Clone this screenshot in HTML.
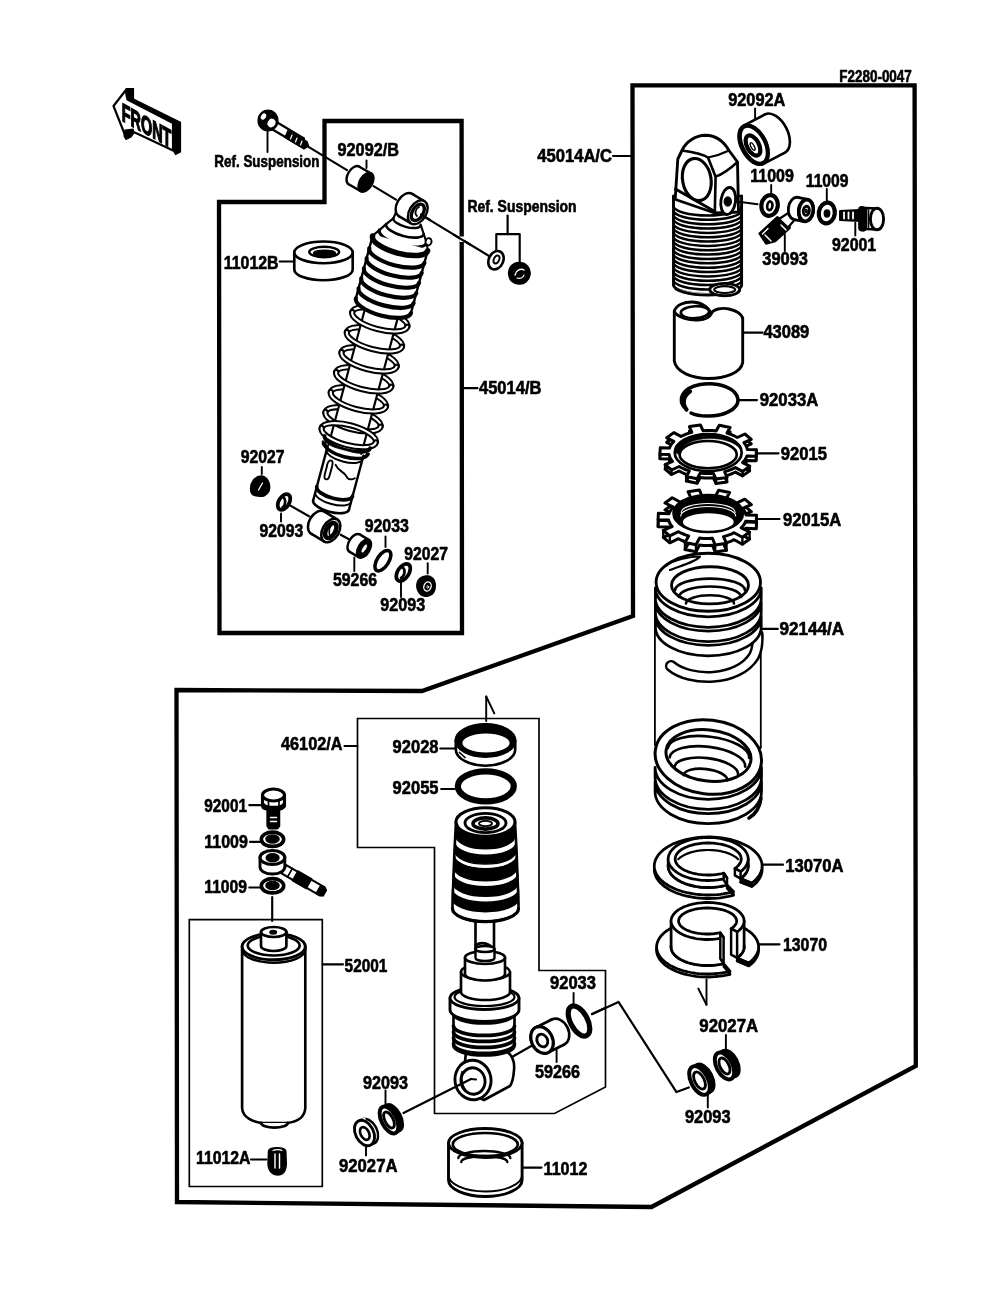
<!DOCTYPE html>
<html><head><meta charset="utf-8"><title>Shock Absorber</title>
<style>
html,body{margin:0;padding:0;background:#fff;}
body{width:1000px;height:1308px;overflow:hidden;font-family:"Liberation Sans",sans-serif;}
svg{display:block;will-change:transform;}
svg text{font-family:"Liberation Sans",sans-serif;font-weight:bold;fill:#000;}
</style></head><body>
<svg width="1000" height="1308" viewBox="0 0 1000 1308" stroke="#000" fill="none" stroke-linecap="round" stroke-linejoin="round">
<rect x="0" y="0" width="1000" height="1308" fill="#fff" stroke="none"/>
<path d="M632.5 85.3 L914.6 85.3 L915.8 1066.0 L651.5 1207.0 L177.0 1202.0 L176.5 690.0 L422.0 691.0 L633.0 616.0 Z" stroke-width="4.3" fill="none" stroke-linejoin="miter"/>
<path d="M324.5 121.0 L461.6 121.0 L462.0 633.0 L219.5 633.0 L219.0 202.0 L324.5 202.0 Z" stroke-width="4.3" fill="none" stroke-linejoin="miter"/>
<path d="M357.5 718.5 L539.0 718.5 L539.0 970.5 L605.5 970.5 L605.5 1087.0 L554.5 1113.5 L434.5 1113.5 L434.5 847.5 L357.5 847.5 Z" stroke-width="1.68" fill="none" stroke-linejoin="miter"/>
<path d="M189.3 919.7 L322.3 919.7 L322.3 1186.5 L189.3 1186.5 Z" stroke-width="1.68" fill="none" stroke-linejoin="miter"/>
<text x="839.3" y="81.5" font-size="16" textLength="72.5" lengthAdjust="spacingAndGlyphs" stroke="#000" stroke-width="0.6">F2280-0047</text>
<text x="728.2" y="106.0" font-size="18" textLength="57.2" lengthAdjust="spacingAndGlyphs" stroke="#000" stroke-width="0.6">92092A</text>
<text x="537.2" y="162.0" font-size="18" textLength="74.8" lengthAdjust="spacingAndGlyphs" stroke="#000" stroke-width="0.6">45014A/C</text>
<text x="750.3" y="181.7" font-size="18" textLength="43.5" lengthAdjust="spacingAndGlyphs" stroke="#000" stroke-width="0.6">11009</text>
<text x="805.8" y="186.8" font-size="18" textLength="42.7" lengthAdjust="spacingAndGlyphs" stroke="#000" stroke-width="0.6">11009</text>
<text x="832.0" y="250.5" font-size="18" textLength="44.2" lengthAdjust="spacingAndGlyphs" stroke="#000" stroke-width="0.6">92001</text>
<text x="762.3" y="264.7" font-size="18" textLength="45.7" lengthAdjust="spacingAndGlyphs" stroke="#000" stroke-width="0.6">39093</text>
<text x="763.4" y="338.0" font-size="18" textLength="45.9" lengthAdjust="spacingAndGlyphs" stroke="#000" stroke-width="0.6">43089</text>
<text x="759.8" y="405.5" font-size="18" textLength="58.5" lengthAdjust="spacingAndGlyphs" stroke="#000" stroke-width="0.6">92033A</text>
<text x="780.8" y="459.5" font-size="18" textLength="46.2" lengthAdjust="spacingAndGlyphs" stroke="#000" stroke-width="0.6">92015</text>
<text x="783.0" y="525.5" font-size="18" textLength="58.3" lengthAdjust="spacingAndGlyphs" stroke="#000" stroke-width="0.6">92015A</text>
<text x="779.4" y="635.4" font-size="18" textLength="64.8" lengthAdjust="spacingAndGlyphs" stroke="#000" stroke-width="0.6">92144/A</text>
<text x="785.2" y="872.1" font-size="18" textLength="58.3" lengthAdjust="spacingAndGlyphs" stroke="#000" stroke-width="0.6">13070A</text>
<text x="783.0" y="951.0" font-size="18" textLength="44.0" lengthAdjust="spacingAndGlyphs" stroke="#000" stroke-width="0.6">13070</text>
<text x="699.3" y="1032.3" font-size="18" textLength="58.9" lengthAdjust="spacingAndGlyphs" stroke="#000" stroke-width="0.6">92027A</text>
<text x="685.0" y="1122.5" font-size="18" textLength="45.6" lengthAdjust="spacingAndGlyphs" stroke="#000" stroke-width="0.6">92093</text>
<text x="550.0" y="989.0" font-size="18" textLength="46.0" lengthAdjust="spacingAndGlyphs" stroke="#000" stroke-width="0.6">92033</text>
<text x="535.0" y="1078.0" font-size="18" textLength="45.0" lengthAdjust="spacingAndGlyphs" stroke="#000" stroke-width="0.6">59266</text>
<text x="363.0" y="1089.0" font-size="18" textLength="45.0" lengthAdjust="spacingAndGlyphs" stroke="#000" stroke-width="0.6">92093</text>
<text x="339.0" y="1171.5" font-size="18" textLength="58.5" lengthAdjust="spacingAndGlyphs" stroke="#000" stroke-width="0.6">92027A</text>
<text x="543.6" y="1174.5" font-size="18" textLength="43.8" lengthAdjust="spacingAndGlyphs" stroke="#000" stroke-width="0.6">11012</text>
<text x="196.0" y="1164.0" font-size="18" textLength="54.5" lengthAdjust="spacingAndGlyphs" stroke="#000" stroke-width="0.6">11012A</text>
<text x="344.6" y="972.0" font-size="18" textLength="42.8" lengthAdjust="spacingAndGlyphs" stroke="#000" stroke-width="0.6">52001</text>
<text x="204.3" y="811.5" font-size="18" textLength="42.7" lengthAdjust="spacingAndGlyphs" stroke="#000" stroke-width="0.6">92001</text>
<text x="204.3" y="848.3" font-size="18" textLength="43.5" lengthAdjust="spacingAndGlyphs" stroke="#000" stroke-width="0.6">11009</text>
<text x="204.3" y="893.3" font-size="18" textLength="42.7" lengthAdjust="spacingAndGlyphs" stroke="#000" stroke-width="0.6">11009</text>
<text x="281.0" y="750.0" font-size="18" textLength="61.5" lengthAdjust="spacingAndGlyphs" stroke="#000" stroke-width="0.6">46102/A</text>
<text x="392.6" y="753.0" font-size="18" textLength="45.9" lengthAdjust="spacingAndGlyphs" stroke="#000" stroke-width="0.6">92028</text>
<text x="392.6" y="794.4" font-size="18" textLength="45.9" lengthAdjust="spacingAndGlyphs" stroke="#000" stroke-width="0.6">92055</text>
<text x="240.8" y="463.4" font-size="18" textLength="43.8" lengthAdjust="spacingAndGlyphs" stroke="#000" stroke-width="0.6">92027</text>
<text x="259.4" y="536.6" font-size="18" textLength="43.8" lengthAdjust="spacingAndGlyphs" stroke="#000" stroke-width="0.6">92093</text>
<text x="364.7" y="532.1" font-size="18" textLength="44.2" lengthAdjust="spacingAndGlyphs" stroke="#000" stroke-width="0.6">92033</text>
<text x="333.0" y="586.0" font-size="18" textLength="44.0" lengthAdjust="spacingAndGlyphs" stroke="#000" stroke-width="0.6">59266</text>
<text x="404.3" y="560.0" font-size="18" textLength="43.6" lengthAdjust="spacingAndGlyphs" stroke="#000" stroke-width="0.6">92027</text>
<text x="380.3" y="611.4" font-size="18" textLength="44.8" lengthAdjust="spacingAndGlyphs" stroke="#000" stroke-width="0.6">92093</text>
<text x="223.8" y="268.5" font-size="18" textLength="54.7" lengthAdjust="spacingAndGlyphs" stroke="#000" stroke-width="0.6">11012B</text>
<text x="479.0" y="393.6" font-size="18" textLength="62.4" lengthAdjust="spacingAndGlyphs" stroke="#000" stroke-width="0.6">45014/B</text>
<text x="337.5" y="155.5" font-size="18" textLength="61.5" lengthAdjust="spacingAndGlyphs" stroke="#000" stroke-width="0.6">92092/B</text>
<text x="214.3" y="167.0" font-size="16.3" textLength="105.2" lengthAdjust="spacingAndGlyphs" stroke="#000" stroke-width="0.6">Ref. Suspension</text>
<text x="467.4" y="211.5" font-size="16.3" textLength="109.2" lengthAdjust="spacingAndGlyphs" stroke="#000" stroke-width="0.6">Ref. Suspension</text>
<path d="M126.0 88.5 L133.5 88.5 L133.5 99.0 L180.5 122.3 L180.5 152.0 L175.5 154.5 L173.0 150.0 L173.0 123.5 L128.0 100.5 L125.5 91.0 Z" stroke-width="1.2" fill="#000" />
<path d="M113.5 106.0 L125.5 90.5 L127.5 99.5 L173.0 123.0 L173.0 150.5 L137.0 133.5 L131.0 131.0 L126.0 137.5 L113.5 106.0 Z" stroke-width="2.16" fill="#fff" />
<path d="M125.0 130.0 L133.0 129.0 L134.0 133.0 L131.0 137.0 L126.0 139.5 L124.0 136.0 Z" stroke-width="1.2" fill="#000" />
<text transform="translate(121.8,120.6) skewY(29)" x="0" y="0" font-size="25.5" textLength="49.5" lengthAdjust="spacingAndGlyphs" stroke="#000" stroke-width="1.5" stroke-linejoin="miter">FRONT</text>
<line x1="306.0" y1="145.3" x2="347.0" y2="170.1" stroke-width="2.16" />
<line x1="373.5" y1="186.1" x2="396.0" y2="199.7" stroke-width="2.16" />
<line x1="425.0" y1="217.2" x2="489.0" y2="256.0" stroke-width="2.16" />
<path d="M274.0 120.5 L304.0 138.5 L300.5 146.0 L270.0 128.0 Z" stroke-width="2.16" fill="#fff" />
<path d="M288.0 130.5 L307.0 141.5 L308.5 146.0 L304.0 149.0 L285.0 137.5 Z" stroke-width="1.44" fill="#000" />
<line x1="292.0" y1="135.0" x2="290.5" y2="139.0" stroke-width="1.2" stroke="#fff"/>
<line x1="297.0" y1="138.0" x2="295.5" y2="142.0" stroke-width="1.2" stroke="#fff"/>
<line x1="302.0" y1="141.0" x2="300.5" y2="145.0" stroke-width="1.2" stroke="#fff"/>
<ellipse cx="268.0" cy="120.5" rx="10.0" ry="10.5" stroke-width="1.2" fill="#000" />
<ellipse cx="263.5" cy="116.5" rx="2.2" ry="3.2" stroke-width="0.5" fill="#fff" transform="rotate(30 263.5 116.5)" stroke="#fff"/>
<ellipse cx="271.5" cy="123.0" rx="3.6" ry="4.2" stroke-width="0.5" fill="#fff" transform="rotate(30 271.5 123.0)" stroke="#fff"/>
<line x1="267.5" y1="131.0" x2="267.5" y2="152.0" stroke-width="1.92" />
<ellipse cx="354.0" cy="175.5" rx="6.2" ry="10.3" stroke-width="2.4" fill="#fff" transform="rotate(31 354.0 175.5)" />
<path d="M348.7 184.3 L360.7 191.1 L371.3 173.5 L359.3 166.7 Z" stroke-width="0.1" fill="#fff" stroke="#fff"/>
<line x1="348.7" y1="184.3" x2="360.7" y2="191.1" stroke-width="2.4" />
<line x1="359.3" y1="166.7" x2="371.3" y2="173.5" stroke-width="2.4" />
<ellipse cx="366.0" cy="182.3" rx="6.2" ry="10.3" stroke-width="2.4" fill="#000" transform="rotate(31 366.0 182.3)" />
<line x1="366.5" y1="160.5" x2="366.5" y2="168.0" stroke-width="1.92" />
<g transform="translate(400.5,242) rotate(15)">
<path d="M-12.0 -28.0 L-28.0 0.0 L28.0 0.0 L16.0 -26.0 Z" stroke-width="0.1" fill="#fff" stroke="#fff"/>
<path d="M-13.0 -21.0 A14.0 5.0 0 0 0 15.0 -21.0" stroke-width="2.4" fill="none" />
<path d="M-18.5 -13.5 A19.5 7.0 0 0 0 20.5 -13.5" stroke-width="2.64" fill="none" />
<path d="M-23.5 -6.0 A24.5 8.8 0 0 0 25.5 -6.0" stroke-width="3.12" fill="none" />
<line x1="-12.0" y1="-28.0" x2="-13.0" y2="-21.0" stroke-width="2.16" />
<line x1="-13.0" y1="-21.0" x2="-18.5" y2="-13.5" stroke-width="2.16" />
<line x1="-18.5" y1="-13.5" x2="-23.5" y2="-6.0" stroke-width="2.16" />
<line x1="-23.5" y1="-6.0" x2="-28.5" y2="1.0" stroke-width="2.16" />
<line x1="15.0" y1="-22.0" x2="20.5" y2="-13.5" stroke-width="2.16" />
<line x1="20.5" y1="-13.5" x2="25.5" y2="-6.0" stroke-width="2.16" />
<line x1="25.5" y1="-6.0" x2="28.5" y2="1.0" stroke-width="2.16" />
<ellipse cx="27.0" cy="-7.5" rx="3.0" ry="3.6" stroke-width="1.92" fill="#fff" />
<path d="M-28.5 80.1 A28.5 10.0 0 0 1 28.5 80.1" stroke-width="6.2" fill="none" />
<path d="M-28.5 80.1 A28.5 10.0 0 0 1 28.5 80.1" stroke-width="2.16" fill="none" stroke="#fff"/>
<path d="M-28.5 100.8 A28.5 10.0 0 0 1 28.5 100.8" stroke-width="6.2" fill="none" />
<path d="M-28.5 100.8 A28.5 10.0 0 0 1 28.5 100.8" stroke-width="2.16" fill="none" stroke="#fff"/>
<path d="M-28.5 121.5 A28.5 10.0 0 0 1 28.5 121.5" stroke-width="6.2" fill="none" />
<path d="M-28.5 121.5 A28.5 10.0 0 0 1 28.5 121.5" stroke-width="2.16" fill="none" stroke="#fff"/>
<path d="M-28.5 142.2 A28.5 10.0 0 0 1 28.5 142.2" stroke-width="6.2" fill="none" />
<path d="M-28.5 142.2 A28.5 10.0 0 0 1 28.5 142.2" stroke-width="2.16" fill="none" stroke="#fff"/>
<path d="M-28.5 162.9 A28.5 10.0 0 0 1 28.5 162.9" stroke-width="6.2" fill="none" />
<path d="M-28.5 162.9 A28.5 10.0 0 0 1 28.5 162.9" stroke-width="2.16" fill="none" stroke="#fff"/>
<path d="M-28.5 183.6 A28.5 10.0 0 0 1 28.5 183.6" stroke-width="6.2" fill="none" />
<path d="M-28.5 183.6 A28.5 10.0 0 0 1 28.5 183.6" stroke-width="2.16" fill="none" stroke="#fff"/>
<path d="M-17.0 60.0 L-17.0 215.0 L17.0 215.0 L17.0 60.0 Z" stroke-width="0.1" fill="#fff" stroke="#fff"/>
<line x1="-17.0" y1="60.0" x2="-17.0" y2="215.0" stroke-width="2.16" />
<line x1="17.0" y1="60.0" x2="17.0" y2="215.0" stroke-width="2.16" />
<path d="M-28.5 0.0 L-28.5 66.0 L28.5 66.0 L28.5 0.0 Z" stroke-width="0.1" fill="#fff" stroke="#fff"/>
<path d="M-28.5 66 A28.5 10 0 0 0 28.5 66 Z" stroke-width="0.1" fill="#fff" stroke="#fff"/>
<line x1="-28.5" y1="0.0" x2="-28.5" y2="66.0" stroke-width="2.4" />
<line x1="28.5" y1="0.0" x2="28.5" y2="66.0" stroke-width="2.4" />
<path d="M-28.5 1.5 A28.5 10.0 0 0 0 28.5 1.5" stroke-width="5.5" fill="none" />
<path d="M-28.5 14.0 A28.5 10.0 0 0 0 28.5 14.0" stroke-width="4.18" fill="none" />
<path d="M-28.5 24.4 A28.5 10.0 0 0 0 28.5 24.4" stroke-width="4.18" fill="none" />
<path d="M-28.5 34.8 A28.5 10.0 0 0 0 28.5 34.8" stroke-width="4.18" fill="none" />
<path d="M-28.5 45.2 A28.5 10.0 0 0 0 28.5 45.2" stroke-width="4.18" fill="none" />
<path d="M-28.5 55.6 A28.5 10.0 0 0 0 28.5 55.6" stroke-width="4.18" fill="none" />
<path d="M-28.5 66.0 A28.5 10.0 0 0 0 28.5 66.0" stroke-width="4.18" fill="none" />
<path d="M-28.5 80.1 A28.5 10.0 0 0 0 28.5 80.1" stroke-width="6.2" fill="none" />
<path d="M-28.5 80.1 A28.5 10.0 0 0 0 28.5 80.1" stroke-width="2.16" fill="none" stroke="#fff"/>
<path d="M-28.5 100.8 A28.5 10.0 0 0 0 28.5 100.8" stroke-width="6.2" fill="none" />
<path d="M-28.5 100.8 A28.5 10.0 0 0 0 28.5 100.8" stroke-width="2.16" fill="none" stroke="#fff"/>
<path d="M-28.5 121.5 A28.5 10.0 0 0 0 28.5 121.5" stroke-width="6.2" fill="none" />
<path d="M-28.5 121.5 A28.5 10.0 0 0 0 28.5 121.5" stroke-width="2.16" fill="none" stroke="#fff"/>
<path d="M-28.5 142.2 A28.5 10.0 0 0 0 28.5 142.2" stroke-width="6.2" fill="none" />
<path d="M-28.5 142.2 A28.5 10.0 0 0 0 28.5 142.2" stroke-width="2.16" fill="none" stroke="#fff"/>
<path d="M-28.5 162.9 A28.5 10.0 0 0 0 28.5 162.9" stroke-width="6.2" fill="none" />
<path d="M-28.5 162.9 A28.5 10.0 0 0 0 28.5 162.9" stroke-width="2.16" fill="none" stroke="#fff"/>
<path d="M-28.5 183.6 A28.5 10.0 0 0 0 28.5 183.6" stroke-width="6.2" fill="none" />
<path d="M-28.5 183.6 A28.5 10.0 0 0 0 28.5 183.6" stroke-width="2.16" fill="none" stroke="#fff"/>
<path d="M-28.0 200.0 A28.0 10.0 0 0 1 28.0 200.0" stroke-width="6.2" fill="none" />
<path d="M-28.0 200.0 A28.0 10.0 0 0 1 28.0 200.0" stroke-width="2.16" fill="none" stroke="#fff"/>
<path d="M-28.0 200.0 A28.0 10.0 0 0 0 28.0 200.0" stroke-width="6.2" fill="none" />
<path d="M-28.0 200.0 A28.0 10.0 0 0 0 28.0 200.0" stroke-width="2.16" fill="none" stroke="#fff"/>
<path d="M-23.0 207.0 A23.5 8.0 0 0 0 24.0 207.0" stroke-width="3.74" fill="none" />
<path d="M-23.0 213.0 A23.5 8.0 0 0 0 24.0 213.0" stroke-width="2.88" fill="none" />
<path d="M-17.5 216.0 L-17.5 272.0 L19.5 272.0 L19.5 216.0 Z" stroke-width="0.1" fill="#fff" stroke="#fff"/>
<path d="M-17.5 272 A18.5 7 0 0 0 19.5 272 Z" stroke-width="0.1" fill="#fff" stroke="#fff"/>
<line x1="-17.5" y1="216.0" x2="-17.5" y2="272.0" stroke-width="2.4" />
<line x1="19.5" y1="216.0" x2="19.5" y2="272.0" stroke-width="2.4" />
<path d="M-21.0 214 L-17.5 219 M23.0 214 L19.5 219" stroke-width="2.4" fill="none" />
<path d="M-21.0 214.0 A22.0 8.0 0 0 0 23.0 214.0" stroke-width="3.52" fill="none" />
<path d="M-17.5 220.0 A18.5 7.0 0 0 0 19.5 220.0" stroke-width="1.92" fill="none" />
<path d="M-17.5 258.0 A18.5 7.0 0 0 0 19.5 258.0" stroke-width="3.74" fill="none" />
<path d="M-17.5 264.0 A18.5 7.0 0 0 0 19.5 264.0" stroke-width="1.92" fill="none" />
<path d="M-17.5 272.0 A18.5 7.0 0 0 0 19.5 272.0" stroke-width="2.64" fill="none" />
<path d="M-13 236 C-14 228 -8 226 -8 234 L-8 244 C-8 250 -13 250 -13 244 Z" stroke-width="1.92" fill="none" />
<path d="M-5 232 C0 238 4 236 8 240 C11 244 15 242 17 240" stroke-width="1.92" fill="none" />
</g>
<ellipse cx="405.5" cy="205.0" rx="8.5" ry="13.0" stroke-width="2.4" fill="#fff" transform="rotate(31 405.5 205.0)" />
<path d="M398.8 216.1 L411.1 223.4 L424.5 201.2 L412.2 193.9 Z" stroke-width="0.1" fill="#fff" stroke="#fff"/>
<line x1="398.8" y1="216.1" x2="411.1" y2="223.4" stroke-width="2.4" />
<line x1="412.2" y1="193.9" x2="424.5" y2="201.2" stroke-width="2.4" />
<ellipse cx="417.8" cy="212.3" rx="8.5" ry="13.0" stroke-width="2.4" fill="#fff" transform="rotate(31 417.8 212.3)" />
<ellipse cx="417.8" cy="212.3" rx="5.4" ry="9.0" stroke-width="3.36" fill="#fff" transform="rotate(31 417.8 212.3)" />
<path d="M419 207 C415 209 414.5 214 417 216" stroke-width="1.8" fill="none" />
<line x1="421.0" y1="214.5" x2="430.0" y2="220.0" stroke-width="2.16" />
<ellipse cx="317.5" cy="522.5" rx="8.2" ry="12.8" stroke-width="2.52" fill="#fff" transform="rotate(30 317.5 522.5)" />
<path d="M311.1 533.6 L324.4 541.6 L337.2 519.4 L323.9 511.4 Z" stroke-width="0.1" fill="#fff" stroke="#fff"/>
<line x1="311.1" y1="533.6" x2="324.4" y2="541.6" stroke-width="2.52" />
<line x1="323.9" y1="511.4" x2="337.2" y2="519.4" stroke-width="2.52" />
<ellipse cx="330.8" cy="530.5" rx="8.2" ry="12.8" stroke-width="2.52" fill="#fff" transform="rotate(30 330.8 530.5)" />
<ellipse cx="330.8" cy="530.5" rx="4.6" ry="8.2" stroke-width="4.6" fill="#fff" transform="rotate(30 330.8 530.5)" />
<path d="M331.5 525 C329 528 329 533 330 536" stroke-width="1.68" fill="none" />
<path d="M294.3 252.4 L294.3 269.4 A29.2 10.9 0 0 0 352.7 269.4 L352.7 252.4" stroke-width="2.64" fill="#fff" />
<ellipse cx="323.5" cy="252.4" rx="29.2" ry="10.9" stroke-width="2.64" fill="#fff" />
<ellipse cx="324.2" cy="252.0" rx="15.0" ry="5.2" stroke-width="2.4" fill="#fff" />
<ellipse cx="324.5" cy="253.2" rx="11.0" ry="3.2" stroke-width="1.2" fill="#000" />
<line x1="279.5" y1="261.5" x2="294.0" y2="261.5" stroke-width="1.92" />
<path d="M251 492 C249 482 256 475.5 262 476 C268 477 271 485 269 491 C267 496 262 497 258 496 C254 496 252 495 251 492 Z" stroke-width="1.44" fill="#000" />
<line x1="258.5" y1="490.0" x2="262.5" y2="483.0" stroke-width="1.32" stroke="#fff"/>
<line x1="261.8" y1="467.0" x2="261.8" y2="474.0" stroke-width="1.92" />
<ellipse cx="284.0" cy="502.0" rx="5.2" ry="8.6" stroke-width="3.74" fill="#fff" transform="rotate(31 284.0 502.0)" />
<path d="M283 497 C286 499 286 505 282.5 507.5" stroke-width="2.64" fill="none" />
<line x1="281.0" y1="513.5" x2="281.0" y2="521.5" stroke-width="1.92" />
<line x1="290.0" y1="505.4" x2="309.0" y2="516.2" stroke-width="2.16" />
<line x1="340.6" y1="534.7" x2="349.0" y2="539.3" stroke-width="2.16" />
<ellipse cx="354.5" cy="543.0" rx="5.6" ry="10.0" stroke-width="2.4" fill="#fff" transform="rotate(31 354.5 543.0)" />
<path d="M349.3 551.6 L358.8 557.3 L369.2 540.1 L359.7 534.4 Z" stroke-width="0.1" fill="#fff" stroke="#fff"/>
<line x1="349.3" y1="551.6" x2="358.8" y2="557.3" stroke-width="2.4" />
<line x1="359.7" y1="534.4" x2="369.2" y2="540.1" stroke-width="2.4" />
<ellipse cx="364.0" cy="548.7" rx="5.6" ry="10.0" stroke-width="2.4" fill="#000" transform="rotate(31 364.0 548.7)" />
<ellipse cx="364.3" cy="548.5" rx="1.3" ry="4.3" stroke-width="0.6" fill="#fff" transform="rotate(31 364.3 548.5)" stroke="#fff"/>
<line x1="354.3" y1="557.5" x2="354.3" y2="571.0" stroke-width="1.92" />
<ellipse cx="382.9" cy="560.7" rx="5.8" ry="11.6" stroke-width="3.52" fill="#fff" transform="rotate(33 382.9 560.7)" />
<line x1="385.5" y1="536.5" x2="385.5" y2="547.0" stroke-width="1.92" />
<ellipse cx="403.3" cy="572.4" rx="5.6" ry="9.6" stroke-width="3.74" fill="#fff" transform="rotate(33 403.3 572.4)" />
<path d="M402 567 C406 569 405 576 401 578" stroke-width="2.64" fill="none" />
<line x1="401.0" y1="581.5" x2="401.0" y2="597.0" stroke-width="1.92" />
<path d="M417 588 C415.5 580 422 575 428 576 C434 577 436.5 583 435 589 C433.5 595 428 597 424 596 C420 595 418 592 417 588 Z" stroke-width="1.44" fill="#000" />
<ellipse cx="427.5" cy="586.5" rx="3.6" ry="4.6" stroke-width="1.32" fill="none" transform="rotate(20 427.5 586.5)" stroke="#fff"/>
<ellipse cx="427.8" cy="587.0" rx="0.9" ry="1.3" stroke-width="0.8" fill="none" stroke="#fff"/>
<line x1="427.7" y1="563.3" x2="427.7" y2="573.5" stroke-width="1.92" />
<line x1="507.6" y1="215.5" x2="507.6" y2="234.2" stroke-width="2.16" />
<path d="M496.3 251.0 L496.3 234.2 L519.7 234.2 L519.7 262.5" stroke-width="2.16" fill="none" />
<ellipse cx="496.0" cy="260.2" rx="7.2" ry="9.6" stroke-width="2.64" fill="#fff" transform="rotate(25 496.0 260.2)" />
<ellipse cx="496.5" cy="259.5" rx="2.6" ry="4.2" stroke-width="1.92" fill="#fff" transform="rotate(25 496.5 259.5)" />
<path d="M509 276 C507 268 513 262 520 262.5 C527 263 531 269 530 275 C529 281 524 284.5 519 284 C514 283.5 510 281 509 276 Z" stroke-width="1.44" fill="#000" />
<path d="M515 275 C516 270 521 268 524 270" stroke-width="1.44" fill="none" stroke="#fff"/>
<path d="M517 278 C520 279 523 278 524 275" stroke-width="1.2" fill="none" stroke="#fff"/>
<line x1="462.0" y1="236.5" x2="462.0" y2="242.0" stroke-width="5" stroke="#fff" stroke-linecap="butt"/>
<line x1="454.0" y1="234.8" x2="470.0" y2="244.5" stroke-width="2.16" />
<line x1="464.0" y1="388.2" x2="477.5" y2="388.2" stroke-width="2.16" />
<line x1="755.1" y1="108.5" x2="755.1" y2="120.0" stroke-width="1.92" />
<ellipse cx="775.0" cy="133.5" rx="12.5" ry="21.5" stroke-width="2.64" fill="#fff" transform="rotate(-27.5 775.0 133.5)" />
<path d="M784.9 152.6 L763.4 163.8 L743.6 125.6 L765.1 114.4 Z" stroke-width="0.1" fill="#fff" stroke="#fff"/>
<line x1="784.9" y1="152.6" x2="763.4" y2="163.8" stroke-width="2.64" />
<line x1="765.1" y1="114.4" x2="743.6" y2="125.6" stroke-width="2.64" />
<ellipse cx="753.5" cy="144.7" rx="12.5" ry="21.5" stroke-width="2.64" fill="#fff" transform="rotate(-27.5 753.5 144.7)" />
<ellipse cx="753.8" cy="144.7" rx="11.6" ry="20.6" stroke-width="4.2" fill="#fff" transform="rotate(-27.5 753.8 144.7)" />
<ellipse cx="753.0" cy="145.5" rx="6.0" ry="11.0" stroke-width="4.2" fill="#fff" transform="rotate(-27.5 753.0 145.5)" />
<ellipse cx="752.6" cy="146.5" rx="1.6" ry="4.2" stroke-width="1.44" fill="#fff" transform="rotate(-27.5 752.6 146.5)" />
<path d="M673.5 196 L673.5 282 A34.10000000000002 10 0 0 0 741.7 282 L741.7 196 Z" stroke-width="2.64" fill="#fff" />
<path d="M673.5 278 A34.10000000000002 10 0 0 0 741.7 278 L741.7 283 A34.10000000000002 10 0 0 1 673.5 283 Z" stroke-width="0.1" fill="#fff" stroke="#fff"/>
<path d="M673.5 206.0 A34.10000000000002 9.5 0 0 0 741.7 206.0" stroke-width="2.52" fill="none" />
<path d="M673.5 210.3 A34.10000000000002 9.5 0 0 0 741.7 210.3" stroke-width="2.52" fill="none" />
<path d="M673.5 214.7 A34.10000000000002 9.5 0 0 0 741.7 214.7" stroke-width="2.52" fill="none" />
<path d="M673.5 219.0 A34.10000000000002 9.5 0 0 0 741.7 219.0" stroke-width="2.52" fill="none" />
<path d="M673.5 223.4 A34.10000000000002 9.5 0 0 0 741.7 223.4" stroke-width="2.52" fill="none" />
<path d="M673.5 227.7 A34.10000000000002 9.5 0 0 0 741.7 227.7" stroke-width="2.52" fill="none" />
<path d="M673.5 232.1 A34.10000000000002 9.5 0 0 0 741.7 232.1" stroke-width="2.52" fill="none" />
<path d="M673.5 236.4 A34.10000000000002 9.5 0 0 0 741.7 236.4" stroke-width="2.52" fill="none" />
<path d="M673.5 240.8 A34.10000000000002 9.5 0 0 0 741.7 240.8" stroke-width="2.52" fill="none" />
<path d="M673.5 245.1 A34.10000000000002 9.5 0 0 0 741.7 245.1" stroke-width="2.52" fill="none" />
<path d="M673.5 249.5 A34.10000000000002 9.5 0 0 0 741.7 249.5" stroke-width="2.52" fill="none" />
<path d="M673.5 253.8 A34.10000000000002 9.5 0 0 0 741.7 253.8" stroke-width="2.52" fill="none" />
<path d="M673.5 258.2 A34.10000000000002 9.5 0 0 0 741.7 258.2" stroke-width="2.52" fill="none" />
<path d="M673.5 262.5 A34.10000000000002 9.5 0 0 0 741.7 262.5" stroke-width="2.52" fill="none" />
<path d="M673.5 266.9 A34.10000000000002 9.5 0 0 0 741.7 266.9" stroke-width="2.52" fill="none" />
<path d="M673.5 271.2 A34.10000000000002 9.5 0 0 0 741.7 271.2" stroke-width="2.52" fill="none" />
<path d="M673.5 275.6 A34.10000000000002 9.5 0 0 0 741.7 275.6" stroke-width="2.52" fill="none" />
<path d="M673.5 280.0 A34.10000000000002 9.5 0 0 0 741.7 280.0" stroke-width="2.52" fill="none" />
<path d="M673.5 285 A34.10000000000002 10 0 0 0 741.7 285" stroke-width="2.88" fill="none" />
<line x1="673.5" y1="196.0" x2="673.5" y2="285.0" stroke-width="2.64" />
<line x1="741.7" y1="196.0" x2="741.7" y2="285.0" stroke-width="2.64" />
<ellipse cx="724.7" cy="289.6" rx="15.0" ry="6.2" stroke-width="2.88" fill="#fff" />
<ellipse cx="724.7" cy="289.6" rx="10.5" ry="3.4" stroke-width="2.16" fill="#fff" />
<path d="M675.2 199 L677.8 159 L682 150.5 C686 141 696 135.5 705.5 135.3 C716 135.5 724 142 729 150.5 L737.5 162 L738.5 212 L714.8 213 L677 200 Z" stroke-width="2.88" fill="#fff" />
<path d="M682 150.5 C692 152 703 154 708 157.5 L715.6 176.7 L714.8 213" stroke-width="2.64" fill="none" />
<path d="M715.6 176.7 C723 174 731 168 737.5 162" stroke-width="2.4" fill="none" />
<path d="M708 157.5 C716 156 724 153 729 150.5" stroke-width="2.16" fill="none" />
<path d="M675.5 189 L714.8 211.5" stroke-width="2.88" fill="none" />
<ellipse cx="696.8" cy="179.5" rx="14.2" ry="21.2" stroke-width="3.12" fill="#fff" transform="rotate(-10 696.8 179.5)" />
<ellipse cx="728.2" cy="201.0" rx="7.3" ry="13.6" stroke-width="2.88" fill="#fff" transform="rotate(8 728.2 201.0)" />
<ellipse cx="727.8" cy="201.5" rx="3.6" ry="4.6" stroke-width="1.2" fill="#000" />
<line x1="613.0" y1="156.0" x2="632.0" y2="156.0" stroke-width="2.16" />
<line x1="735.0" y1="201.3" x2="757.5" y2="204.2" stroke-width="2.16" />
<line x1="771.2" y1="185.0" x2="771.2" y2="193.5" stroke-width="1.92" />
<ellipse cx="769.6" cy="205.5" rx="8.2" ry="10.4" stroke-width="4.2" fill="#fff" transform="rotate(8 769.6 205.5)" />
<ellipse cx="769.8" cy="205.8" rx="2.6" ry="4.4" stroke-width="2.64" fill="#fff" transform="rotate(8 769.8 205.8)" />
<path d="M759.3 233.5 L777.3 217.0 L788.5 222.5 L790.0 228.0 L775.0 241.5 L766.0 243.8 Z" stroke-width="1.8" fill="#000" />
<path d="M779.0 219.0 L787.5 213.5 L794.5 220.0 L788.0 227.5 Z" stroke-width="2.16" fill="#fff" />
<line x1="765.0" y1="235.0" x2="771.0" y2="241.0" stroke-width="1.44" stroke="#fff"/>
<line x1="762.5" y1="234.0" x2="768.0" y2="228.5" stroke-width="1.44" stroke="#fff"/>
<line x1="781.0" y1="225.0" x2="786.0" y2="230.0" stroke-width="1.44" stroke="#fff"/>
<ellipse cx="796.0" cy="208.5" rx="7.6" ry="11.3" stroke-width="2.88" fill="#fff" transform="rotate(8 796.0 208.5)" />
<path d="M794.4 219.7 L804.4 221.7 L807.6 199.3 L797.6 197.3 Z" stroke-width="0.1" fill="#fff" stroke="#fff"/>
<line x1="794.4" y1="219.7" x2="804.4" y2="221.7" stroke-width="2.88" />
<line x1="797.6" y1="197.3" x2="807.6" y2="199.3" stroke-width="2.88" />
<ellipse cx="806.0" cy="210.5" rx="7.6" ry="11.3" stroke-width="2.88" fill="#fff" transform="rotate(8 806.0 210.5)" />
<ellipse cx="806.0" cy="210.5" rx="7.2" ry="10.8" stroke-width="3.6" fill="#fff" transform="rotate(8 806.0 210.5)" />
<ellipse cx="806.3" cy="210.8" rx="3.0" ry="4.6" stroke-width="2.88" fill="#fff" transform="rotate(8 806.3 210.8)" />
<ellipse cx="806.3" cy="211.0" rx="1.0" ry="1.6" stroke-width="1.2" fill="#000" />
<line x1="784.8" y1="234.0" x2="784.8" y2="251.0" stroke-width="1.92" />
<line x1="826.8" y1="189.0" x2="826.8" y2="200.5" stroke-width="1.92" />
<ellipse cx="826.8" cy="213.0" rx="8.0" ry="10.4" stroke-width="4.2" fill="#fff" transform="rotate(8 826.8 213.0)" />
<ellipse cx="827.0" cy="213.5" rx="2.8" ry="3.6" stroke-width="1.2" fill="#000" />
<path d="M840.0 211.0 L860.0 210.0 L860.0 221.0 L840.0 220.0 Z" stroke-width="1.92" fill="#000" />
<line x1="844.0" y1="212.5" x2="844.0" y2="218.5" stroke-width="1.8" stroke="#fff"/>
<line x1="848.5" y1="212.5" x2="848.5" y2="218.5" stroke-width="1.8" stroke="#fff"/>
<line x1="853.0" y1="212.5" x2="853.0" y2="218.5" stroke-width="1.8" stroke="#fff"/>
<path d="M859 209 C859 206 865 206 866 209 L866 229 C865 232 859 231 859 228 Z" stroke-width="1.68" fill="#000" />
<path d="M866 208 L877 208.5 L877 229.5 L866 229 Z" stroke-width="2.4" fill="#fff" />
<ellipse cx="877.0" cy="219.0" rx="6.6" ry="10.8" stroke-width="2.88" fill="#fff" />
<line x1="868.5" y1="210.0" x2="868.5" y2="228.0" stroke-width="1.68" />
<line x1="855.3" y1="222.8" x2="855.3" y2="235.5" stroke-width="1.92" />
<path d="M674.3 311.5 L674.3 361 C676 372 692 378.5 708.5 378.5 C725 378.5 741 373 742.7 362.5 L742.7 318" stroke-width="2.88" fill="#fff" />
<path d="M674.3 311.5 C676 305 684 302 692 302 C700 302 708 306 711.2 313.7 C713 309 722 307.5 729 309 C736 310.5 741.5 314 742.7 318.2" stroke-width="2.88" fill="#fff" />
<path d="M674.3 311.5 C678 318 690 320.5 698 320 C705 319.5 710 317 711.2 313.7" stroke-width="2.88" fill="none" />
<ellipse cx="695.0" cy="312.2" rx="14.2" ry="6.0" stroke-width="2.64" fill="#fff" transform="rotate(-3 695.0 312.2)" />
<line x1="743.0" y1="332.6" x2="762.5" y2="332.6" stroke-width="2.16" />
<path d="M686.5 409.5 C676 400 682 388 700 384.5 C720 381.5 737 389 738 399.5 C738.5 410 722 416.5 707 416 C700 416 694 414.5 691 413" stroke-width="3.52" fill="none" />
<path d="M686.5 409.5 C682 404 683 396 690 391.5" stroke-width="4.2" fill="none" />
<line x1="738.5" y1="400.1" x2="757.0" y2="400.1" stroke-width="2.16" />
<path d="M747.4 454.1 L756.5 454.2 L756.1 460.7 L747.0 460.4 L746.1 462.5 L745.3 463.9 L744.3 465.2 L742.6 467.1 L749.7 470.7 L742.6 475.9 L735.4 472.1 L732.4 473.5 L730.3 474.3 L728.1 475.1 L724.6 476.1 L727.0 481.9 L716.0 483.6 L713.4 477.8 L709.4 478.0 L706.8 478.0 L704.2 477.9 L700.3 477.6 L697.1 483.3 L686.3 481.0 L689.4 475.4 L686.0 474.3 L683.9 473.4 L681.9 472.5 L679.1 471.0 L671.5 474.5 L665.1 469.1 L672.5 465.8 L671.0 463.8 L670.2 462.4 L669.6 461.0 L669.0 458.9 L659.9 458.8 L660.3 452.3 L669.4 452.6 L670.3 450.5 L671.1 449.1 L672.1 447.8 L673.8 445.9 L666.7 442.3 L673.8 437.1 L681.0 440.9 L684.0 439.5 L686.1 438.7 L688.3 437.9 L691.8 436.9 L689.4 431.1 L700.4 429.4 L703.0 435.2 L707.0 435.0 L709.6 435.0 L712.2 435.1 L716.1 435.4 L719.3 429.7 L730.1 432.0 L727.0 437.6 L730.4 438.7 L732.5 439.6 L734.5 440.5 L737.3 442.0 L744.9 438.5 L751.3 443.9 L743.9 447.2 L745.4 449.2 L746.2 450.6 L746.8 452.0 Z" stroke-width="3.0" fill="#fff" />
<line x1="756.5" y1="449.7" x2="756.5" y2="454.2" stroke-width="2.4" />
<line x1="756.1" y1="456.2" x2="756.1" y2="460.7" stroke-width="2.4" />
<line x1="749.7" y1="466.2" x2="749.7" y2="470.7" stroke-width="2.4" />
<line x1="742.6" y1="471.4" x2="742.6" y2="475.9" stroke-width="2.4" />
<line x1="727.0" y1="477.4" x2="727.0" y2="481.9" stroke-width="2.4" />
<line x1="716.0" y1="479.1" x2="716.0" y2="483.6" stroke-width="2.4" />
<line x1="697.1" y1="478.8" x2="697.1" y2="483.3" stroke-width="2.4" />
<line x1="686.3" y1="476.5" x2="686.3" y2="481.0" stroke-width="2.4" />
<line x1="671.5" y1="470.0" x2="671.5" y2="474.5" stroke-width="2.4" />
<line x1="665.1" y1="464.6" x2="665.1" y2="469.1" stroke-width="2.4" />
<line x1="659.9" y1="454.3" x2="659.9" y2="458.8" stroke-width="2.4" />
<line x1="660.3" y1="447.8" x2="660.3" y2="452.3" stroke-width="2.4" />
<path d="M747.4 449.6 L756.5 449.7 L756.1 456.2 L747.0 455.9 L746.1 458.0 L745.3 459.4 L744.3 460.7 L742.6 462.6 L749.7 466.2 L742.6 471.4 L735.4 467.6 L732.4 469.0 L730.3 469.8 L728.1 470.6 L724.6 471.6 L727.0 477.4 L716.0 479.1 L713.4 473.3 L709.4 473.5 L706.8 473.5 L704.2 473.4 L700.3 473.1 L697.1 478.8 L686.3 476.5 L689.4 470.9 L686.0 469.8 L683.9 468.9 L681.9 468.0 L679.1 466.5 L671.5 470.0 L665.1 464.6 L672.5 461.3 L671.0 459.3 L670.2 457.9 L669.6 456.5 L669.0 454.4 L659.9 454.3 L660.3 447.8 L669.4 448.1 L670.3 446.0 L671.1 444.6 L672.1 443.3 L673.8 441.4 L666.7 437.8 L673.8 432.6 L681.0 436.4 L684.0 435.0 L686.1 434.2 L688.3 433.4 L691.8 432.4 L689.4 426.6 L700.4 424.9 L703.0 430.7 L707.0 430.5 L709.6 430.5 L712.2 430.6 L716.1 430.9 L719.3 425.2 L730.1 427.5 L727.0 433.1 L730.4 434.2 L732.5 435.1 L734.5 436.0 L737.3 437.5 L744.9 434.0 L751.3 439.4 L743.9 442.7 L745.4 444.7 L746.2 446.1 L746.8 447.5 Z" stroke-width="3.0" fill="#fff" />
<ellipse cx="708.2" cy="452.5" rx="33.5" ry="18.5" stroke-width="2.64" fill="#fff" />
<path d="M675 452.5 A33.2 18.5 0 0 1 741.4 452.5 A28.6 13.8 0 0 0 679.6 454.5 Z" stroke-width="0.5" fill="#000" />
<ellipse cx="708.2" cy="454.6" rx="28.6" ry="13.6" stroke-width="2.64" fill="#fff" />
<line x1="757.7" y1="453.3" x2="778.5" y2="453.3" stroke-width="2.16" />
<path d="M746.0 522.1 L756.6 522.2 L756.2 528.8 L745.6 528.3 L744.8 530.4 L743.9 531.7 L743.0 533.0 L741.2 534.8 L749.6 539.0 L742.4 544.2 L734.1 539.7 L731.2 541.1 L729.1 541.9 L726.9 542.6 L723.5 543.6 L726.5 550.3 L715.2 552.1 L712.4 545.3 L708.5 545.5 L705.9 545.5 L703.4 545.4 L699.5 545.1 L696.0 551.8 L685.0 549.5 L688.7 543.0 L685.4 541.9 L683.3 541.0 L681.3 540.2 L678.5 538.7 L669.8 542.8 L663.3 537.3 L672.1 533.5 L670.6 531.6 L669.8 530.3 L669.2 528.9 L668.6 526.9 L658.0 526.8 L658.4 520.2 L669.0 520.7 L669.8 518.6 L670.7 517.3 L671.6 516.0 L673.4 514.2 L665.0 510.0 L672.2 504.8 L680.5 509.3 L683.4 507.9 L685.5 507.1 L687.7 506.4 L691.1 505.4 L688.1 498.7 L699.4 496.9 L702.2 503.7 L706.1 503.5 L708.7 503.5 L711.2 503.6 L715.1 503.9 L718.6 497.2 L729.6 499.5 L725.9 506.0 L729.2 507.1 L731.3 508.0 L733.3 508.8 L736.1 510.3 L744.8 506.2 L751.3 511.7 L742.5 515.5 L744.0 517.4 L744.8 518.7 L745.4 520.1 Z" stroke-width="3.0" fill="#fff" />
<line x1="756.6" y1="515.2" x2="756.6" y2="522.2" stroke-width="2.4" />
<line x1="756.2" y1="521.8" x2="756.2" y2="528.8" stroke-width="2.4" />
<line x1="749.6" y1="532.0" x2="749.6" y2="539.0" stroke-width="2.4" />
<line x1="742.4" y1="537.2" x2="742.4" y2="544.2" stroke-width="2.4" />
<line x1="726.5" y1="543.3" x2="726.5" y2="550.3" stroke-width="2.4" />
<line x1="715.2" y1="545.1" x2="715.2" y2="552.1" stroke-width="2.4" />
<line x1="696.0" y1="544.8" x2="696.0" y2="551.8" stroke-width="2.4" />
<line x1="685.0" y1="542.5" x2="685.0" y2="549.5" stroke-width="2.4" />
<line x1="669.8" y1="535.8" x2="669.8" y2="542.8" stroke-width="2.4" />
<line x1="663.3" y1="530.3" x2="663.3" y2="537.3" stroke-width="2.4" />
<line x1="658.0" y1="519.8" x2="658.0" y2="526.8" stroke-width="2.4" />
<line x1="658.4" y1="513.2" x2="658.4" y2="520.2" stroke-width="2.4" />
<path d="M746.0 515.1 L756.6 515.2 L756.2 521.8 L745.6 521.3 L744.8 523.4 L743.9 524.7 L743.0 526.0 L741.2 527.8 L749.6 532.0 L742.4 537.2 L734.1 532.7 L731.2 534.1 L729.1 534.9 L726.9 535.6 L723.5 536.6 L726.5 543.3 L715.2 545.1 L712.4 538.3 L708.5 538.5 L705.9 538.5 L703.4 538.4 L699.5 538.1 L696.0 544.8 L685.0 542.5 L688.7 536.0 L685.4 534.9 L683.3 534.0 L681.3 533.2 L678.5 531.7 L669.8 535.8 L663.3 530.3 L672.1 526.5 L670.6 524.6 L669.8 523.3 L669.2 521.9 L668.6 519.9 L658.0 519.8 L658.4 513.2 L669.0 513.7 L669.8 511.6 L670.7 510.3 L671.6 509.0 L673.4 507.2 L665.0 503.0 L672.2 497.8 L680.5 502.3 L683.4 500.9 L685.5 500.1 L687.7 499.4 L691.1 498.4 L688.1 491.7 L699.4 489.9 L702.2 496.7 L706.1 496.5 L708.7 496.5 L711.2 496.6 L715.1 496.9 L718.6 490.2 L729.6 492.5 L725.9 499.0 L729.2 500.1 L731.3 501.0 L733.3 501.8 L736.1 503.3 L744.8 499.2 L751.3 504.7 L742.5 508.5 L744.0 510.4 L744.8 511.7 L745.4 513.1 Z" stroke-width="3.0" fill="#fff" />
<ellipse cx="708.2" cy="513.5" rx="34.8" ry="18.5" stroke-width="2.4" fill="#000" />
<path d="M681.2 512.5 A27 9 0 0 1 735.2 512.5" stroke-width="1.08" fill="none" stroke="#fff"/>
<path d="M680.7 516 A27.5 9.5 0 0 1 735.7 516" stroke-width="1.08" fill="none" stroke="#fff"/>
<ellipse cx="708.3" cy="522.0" rx="26.3" ry="9.6" stroke-width="1.8" fill="#fff" />
<line x1="756.6" y1="519.0" x2="779.5" y2="519.0" stroke-width="2.16" />
<line x1="654.9" y1="600.0" x2="654.9" y2="745.0" stroke-width="1.8" />
<line x1="760.8" y1="600.0" x2="760.8" y2="748.0" stroke-width="1.8" />
<path d="M671 666 C690 682 738 682 754 656 C757 650 758 642 757.5 634" stroke-width="12.2" fill="none" stroke-linecap="round"/>
<path d="M671 666 C690 682 738 682 754 656 C757 650 758 642 757.5 634" stroke-width="7.2" fill="none" stroke="#fff" stroke-linecap="round"/>
<path d="M655.4 626.9 A52.9 29 0 0 0 761.2 626.9 L761.2 616.4 A52.9 29 0 0 1 655.4 616.4 Z" stroke-width="2.76" fill="#fff" />
<path d="M655.4 612.6 A52.9 29 0 0 0 761.2 612.6 L761.2 602.1 A52.9 29 0 0 1 655.4 602.1 Z" stroke-width="2.76" fill="#fff" />
<path d="M655.4 598.3 A52.9 29 0 0 0 761.2 598.3 L761.2 587.8 A52.9 29 0 0 1 655.4 587.8 Z" stroke-width="2.76" fill="#fff" />
<ellipse cx="708.3" cy="582.2" rx="52.2" ry="29.0" stroke-width="2.88" fill="#fff" />
<ellipse cx="710.0" cy="585.3" rx="38.5" ry="18.6" stroke-width="2.88" fill="#fff" />
<path d="M675 590.5 A35 11.9 0 0 1 745 590.5" stroke-width="2.64" fill="none" />
<path d="M679 597 A31 10.5 0 0 1 741 597" stroke-width="2.64" fill="none" />
<path d="M686 603.5 A24 8.2 0 0 1 734 603.5" stroke-width="2.64" fill="none" />
<path d="M666 566 C672 560 690 556.5 700 556.5 C696 562 680 566 670 570" stroke-width="2.16" fill="none" />
<line x1="761.4" y1="628.8" x2="777.8" y2="628.8" stroke-width="2.16" />
<path d="M655.1 791.6 A53.2 32 0 0 0 761.5 791.6 L761.5 781.6 A53.2 32 0 0 1 655.1 781.6 Z" stroke-width="2.76" fill="#fff" />
<path d="M655.1 777.3 A53.2 32 0 0 0 761.5 777.3 L761.5 767.3 A53.2 32 0 0 1 655.1 767.3 Z" stroke-width="2.76" fill="#fff" />
<g transform="rotate(7 708.3 757)">
<ellipse cx="708.3" cy="757.0" rx="53.4" ry="37.0" stroke-width="3.0" fill="#fff" />
<ellipse cx="708.3" cy="755.5" rx="42.7" ry="25.5" stroke-width="3.0" fill="#fff" />
<path d="M667 753 A41 16.4 0 0 1 749 753" stroke-width="2.64" fill="none" />
<path d="M670 762 A38 15.2 0 0 1 746 762" stroke-width="2.64" fill="none" />
<path d="M676 771 A32 12.8 0 0 1 740 771" stroke-width="2.64" fill="none" />
<path d="M686 778 A22 8.8 0 0 1 730 778" stroke-width="2.64" fill="none" />
</g>
<path d="M749 818 C756 814 760 806 761 798" stroke-width="3.6" fill="none" />
<path d="M733.5 895.1 L731.0 895.8 L728.4 896.4 L725.7 896.9 L723.0 897.4 L720.3 897.8 L717.5 898.1 L714.7 898.3 L711.9 898.4 L709.1 898.5 L706.2 898.5 L703.4 898.4 L700.6 898.2 L697.8 898.0 L695.0 897.6 L692.3 897.2 L689.6 896.7 L687.0 896.2 L684.4 895.5 L681.9 894.8 L679.5 894.0 L677.1 893.2 L674.9 892.3 L672.7 891.3 L670.6 890.3 L668.6 889.2 L666.8 888.0 L665.0 886.9 L663.4 885.6 L661.9 884.3 L660.5 883.0 L659.2 881.6 L658.1 880.2 L657.1 878.8 L656.3 877.3 L655.6 875.9 L655.1 874.4 L654.7 872.9 L654.4 871.4 L654.3 869.8 L654.3 868.3 L654.5 866.8 L654.9 865.3 L655.4 863.8 L656.0 862.3 L656.8 860.8 L657.7 859.4 L658.7 858.0 L659.9 856.6 L661.3 855.2 L662.7 853.9 L664.3 852.7 L666.0 851.5 L667.8 850.3 L669.7 849.2 L671.8 848.1 L673.9 847.1 L676.1 846.2 L678.5 845.3 L680.9 844.5 L683.3 843.8 L685.9 843.1 L688.5 842.5 L691.2 842.0 L693.9 841.5 L696.6 841.2 L699.4 840.9 L702.2 840.7 L705.0 840.6 L707.8 840.5 L710.7 840.5 L713.5 840.6 L716.3 840.8 L719.1 841.1 L721.8 841.4 L724.6 841.9 L727.2 842.4 L729.9 842.9 L732.4 843.6 L734.9 844.3 L737.3 845.1 L739.7 846.0 L741.9 846.9 L744.1 847.9 L746.2 848.9 L748.1 850.0 L750.0 851.2 L751.7 852.4 L753.3 853.6 L754.8 854.9 L756.1 856.2 L757.4 857.6 L758.5 859.0 L759.4 860.5 L760.2 861.9 L760.9 863.4 L761.4 864.9 L761.8 866.4 L762.0 867.9 L762.1 869.4 L762.0 871.0 L761.8 872.5 L761.4 874.0 L760.9 875.5 L760.3 877.0 L759.5 878.4 L758.5 879.9 L757.5 881.3 L756.2 882.7 L754.9 884.0 L753.4 885.3 L751.8 886.5 L740.6 882.1 L741.8 881.2 L742.8 880.2 L743.8 879.3 L744.8 878.2 L745.6 877.2 L746.3 876.1 L746.8 875.0 L747.3 873.9 L747.7 872.8 L748.0 871.7 L748.1 870.6 L748.2 869.5 L748.1 868.3 L748.0 867.2 L747.7 866.1 L747.3 865.0 L746.8 863.9 L746.2 862.8 L745.5 861.7 L744.7 860.7 L743.8 859.7 L742.8 858.7 L741.7 857.7 L740.5 856.8 L739.2 855.9 L737.8 855.0 L736.4 854.2 L734.8 853.5 L733.2 852.7 L731.6 852.0 L729.8 851.4 L728.0 850.8 L726.2 850.3 L724.3 849.8 L722.3 849.4 L720.3 849.0 L718.3 848.7 L716.3 848.4 L714.2 848.2 L712.1 848.1 L710.0 848.0 L707.9 848.0 L705.8 848.0 L703.7 848.1 L701.7 848.3 L699.6 848.5 L697.6 848.8 L695.6 849.1 L693.6 849.5 L691.6 849.9 L689.8 850.4 L687.9 851.0 L686.1 851.6 L684.4 852.2 L682.8 852.9 L681.2 853.6 L679.7 854.4 L678.2 855.3 L676.9 856.1 L675.6 857.0 L674.4 858.0 L673.4 858.9 L672.4 859.9 L671.5 861.0 L670.7 862.0 L670.0 863.1 L669.5 864.2 L669.0 865.3 L668.6 866.4 L668.4 867.5 L668.2 868.6 L668.2 869.7 L668.3 870.9 L668.5 872.0 L668.8 873.1 L669.2 874.2 L669.7 875.3 L670.3 876.4 L671.0 877.5 L671.9 878.5 L672.8 879.5 L673.8 880.5 L674.9 881.4 L676.2 882.4 L677.5 883.3 L678.8 884.1 L680.3 884.9 L681.8 885.7 L683.5 886.4 L685.1 887.1 L686.9 887.7 L688.7 888.3 L690.6 888.8 L692.5 889.3 L694.4 889.7 L696.4 890.0 L698.4 890.3 L700.5 890.6 L702.6 890.8 L704.6 890.9 L706.7 891.0 L708.8 891.0 L710.9 890.9 L713.0 890.8 L715.1 890.7 L717.2 890.5 L719.2 890.2 L721.2 889.8 L723.2 889.4 L725.1 889.0 L727.0 888.5 Z" stroke-width="2.76" fill="#fff" />
<path d="M733.5 891.6 L731.0 892.3 L728.4 892.9 L725.7 893.4 L723.0 893.9 L720.3 894.3 L717.5 894.6 L714.7 894.8 L711.9 894.9 L709.1 895.0 L706.2 895.0 L703.4 894.9 L700.6 894.7 L697.8 894.5 L695.0 894.1 L692.3 893.7 L689.6 893.2 L687.0 892.7 L684.4 892.0 L681.9 891.3 L679.5 890.5 L677.1 889.7 L674.9 888.8 L672.7 887.8 L670.6 886.8 L668.6 885.7 L666.8 884.5 L665.0 883.4 L663.4 882.1 L661.9 880.8 L660.5 879.5 L659.2 878.1 L658.1 876.7 L657.1 875.3 L656.3 873.8 L655.6 872.4 L655.1 870.9 L654.7 869.4 L654.4 867.9 L654.3 866.3 L654.3 864.8 L654.5 863.3 L654.9 861.8 L655.4 860.3 L656.0 858.8 L656.8 857.3 L657.7 855.9 L658.7 854.5 L659.9 853.1 L661.3 851.7 L662.7 850.4 L664.3 849.2 L666.0 848.0 L667.8 846.8 L669.7 845.7 L671.8 844.6 L673.9 843.6 L676.1 842.7 L678.5 841.8 L680.9 841.0 L683.3 840.3 L685.9 839.6 L688.5 839.0 L691.2 838.5 L693.9 838.0 L696.6 837.7 L699.4 837.4 L702.2 837.2 L705.0 837.1 L707.8 837.0 L710.7 837.0 L713.5 837.1 L716.3 837.3 L719.1 837.6 L721.8 837.9 L724.6 838.4 L727.2 838.9 L729.9 839.4 L732.4 840.1 L734.9 840.8 L737.3 841.6 L739.7 842.5 L741.9 843.4 L744.1 844.4 L746.2 845.4 L748.1 846.5 L750.0 847.7 L751.7 848.9 L753.3 850.1 L754.8 851.4 L756.1 852.7 L757.4 854.1 L758.5 855.5 L759.4 857.0 L760.2 858.4 L760.9 859.9 L761.4 861.4 L761.8 862.9 L762.0 864.4 L762.1 865.9 L762.0 867.5 L761.8 869.0 L761.4 870.5 L760.9 872.0 L760.3 873.5 L759.5 874.9 L758.5 876.4 L757.5 877.8 L756.2 879.2 L754.9 880.5 L753.4 881.8 L751.8 883.0 L740.6 878.6 L741.8 877.7 L742.8 876.7 L743.8 875.8 L744.8 874.7 L745.6 873.7 L746.3 872.6 L746.8 871.5 L747.3 870.4 L747.7 869.3 L748.0 868.2 L748.1 867.1 L748.2 866.0 L748.1 864.8 L748.0 863.7 L747.7 862.6 L747.3 861.5 L746.8 860.4 L746.2 859.3 L745.5 858.2 L744.7 857.2 L743.8 856.2 L742.8 855.2 L741.7 854.2 L740.5 853.3 L739.2 852.4 L737.8 851.5 L736.4 850.7 L734.8 850.0 L733.2 849.2 L731.6 848.5 L729.8 847.9 L728.0 847.3 L726.2 846.8 L724.3 846.3 L722.3 845.9 L720.3 845.5 L718.3 845.2 L716.3 844.9 L714.2 844.7 L712.1 844.6 L710.0 844.5 L707.9 844.5 L705.8 844.5 L703.7 844.6 L701.7 844.8 L699.6 845.0 L697.6 845.3 L695.6 845.6 L693.6 846.0 L691.6 846.4 L689.8 846.9 L687.9 847.5 L686.1 848.1 L684.4 848.7 L682.8 849.4 L681.2 850.1 L679.7 850.9 L678.2 851.8 L676.9 852.6 L675.6 853.5 L674.4 854.5 L673.4 855.4 L672.4 856.4 L671.5 857.5 L670.7 858.5 L670.0 859.6 L669.5 860.7 L669.0 861.8 L668.6 862.9 L668.4 864.0 L668.2 865.1 L668.2 866.2 L668.3 867.4 L668.5 868.5 L668.8 869.6 L669.2 870.7 L669.7 871.8 L670.3 872.9 L671.0 874.0 L671.9 875.0 L672.8 876.0 L673.8 877.0 L674.9 877.9 L676.2 878.9 L677.5 879.8 L678.8 880.6 L680.3 881.4 L681.8 882.2 L683.5 882.9 L685.1 883.6 L686.9 884.2 L688.7 884.8 L690.6 885.3 L692.5 885.8 L694.4 886.2 L696.4 886.5 L698.4 886.8 L700.5 887.1 L702.6 887.3 L704.6 887.4 L706.7 887.5 L708.8 887.5 L710.9 887.4 L713.0 887.3 L715.1 887.2 L717.2 887.0 L719.2 886.7 L721.2 886.3 L723.2 885.9 L725.1 885.5 L727.0 885.0 Z" stroke-width="2.76" fill="#fff" />
<path d="M733.5 891.6 L727.0 885.0 L727.0 888.5 L733.5 895.1 Z" stroke-width="2.21" fill="#000" />
<path d="M751.8 883.0 L740.6 878.6 L740.6 882.1 L751.8 886.5 Z" stroke-width="2.21" fill="#000" />
<path d="M748.2 866.0 L748.1 867.1 L748.0 868.2 L747.7 869.4 L747.3 870.5 L746.8 871.6 L746.2 872.6 L745.5 873.7 L744.7 874.7 L743.8 875.8 L742.8 876.8 L741.7 877.7 L740.6 878.6 L739.3 879.5 L737.9 880.4 L736.5 881.2 L735.0 882.0 L733.4 882.7 L731.7 883.4 L730.0 884.0 L728.2 884.6 L726.4 885.2 L724.5 885.6 L722.5 886.1 L720.6 886.4 L718.6 886.8 L716.5 887.0 L714.5 887.2 L712.4 887.4 L710.3 887.5 L708.2 887.5 L706.1 887.5 L704.0 887.4 L701.9 887.2 L699.9 887.0 L697.8 886.8 L695.8 886.4 L693.9 886.1 L691.9 885.6 L690.0 885.2 L688.2 884.6 L686.4 884.0 L684.7 883.4 L683.0 882.7 L681.4 882.0 L679.9 881.2 L678.5 880.4 L677.1 879.5 L675.8 878.6 L674.7 877.7 L673.6 876.8 L672.6 875.8 L671.7 874.7 L670.9 873.7 L670.2 872.6 L669.6 871.6 L669.1 870.5 L668.7 869.4 L668.4 868.2 L668.3 867.1 L668.2 866.0 L668.2 859.0 L668.3 857.9 L668.4 856.8 L668.7 855.6 L669.1 854.5 L669.6 853.4 L670.2 852.4 L670.9 851.3 L671.7 850.3 L672.6 849.2 L673.6 848.2 L674.7 847.3 L675.8 846.4 L677.1 845.5 L678.5 844.6 L679.9 843.8 L681.4 843.0 L683.0 842.3 L684.7 841.6 L686.4 841.0 L688.2 840.4 L690.0 839.8 L691.9 839.4 L693.9 838.9 L695.8 838.6 L697.8 838.2 L699.9 838.0 L701.9 837.8 L704.0 837.6 L706.1 837.5 L708.2 837.5 L710.3 837.5 L712.4 837.6 L714.5 837.8 L716.5 838.0 L718.6 838.2 L720.6 838.6 L722.5 838.9 L724.5 839.4 L726.4 839.8 L728.2 840.4 L730.0 841.0 L731.7 841.6 L733.4 842.3 L735.0 843.0 L736.5 843.8 L737.9 844.6 L739.3 845.5 L740.6 846.4 L741.7 847.3 L742.8 848.2 L743.8 849.2 L744.7 850.3 L745.5 851.3 L746.2 852.4 L746.8 853.4 L747.3 854.5 L747.7 855.6 L748.0 856.8 L748.1 857.9 L748.2 859.0 Z" stroke-width="0.1" fill="#fff" stroke="#fff"/>
<path d="M727.0 885.0 L725.1 885.5 L723.2 885.9 L721.2 886.3 L719.2 886.7 L717.1 887.0 L715.0 887.2 L713.0 887.3 L710.8 887.5 L708.7 887.5 L706.6 887.5 L704.5 887.4 L702.4 887.3 L700.3 887.1 L698.3 886.8 L696.2 886.5 L694.3 886.2 L692.3 885.7 L690.4 885.2 L688.5 884.7 L686.7 884.1 L685.0 883.5 L683.3 882.8 L681.6 882.1 L680.1 881.3 L678.6 880.5 L677.3 879.6 L676.0 878.7 L674.8 877.8 L673.6 876.8 L672.6 875.8 L671.7 874.8 L670.9 873.8 L670.2 872.7 L669.6 871.6 L669.1 870.5 L668.7 869.4 L668.4 868.3 L668.3 867.1 L668.2 866.0" stroke-width="2.76" fill="none" />
<path d="M748.2 866.0 L748.1 867.1 L748.0 868.2 L747.7 869.4 L747.3 870.5 L746.8 871.6 L746.2 872.6 L745.5 873.7 L744.7 874.7 L743.8 875.8 L742.8 876.8 L741.7 877.7 L740.6 878.6" stroke-width="2.76" fill="none" />
<line x1="668.2" y1="866.0" x2="668.2" y2="859.0" stroke-width="2.76" />
<line x1="748.2" y1="866.0" x2="748.2" y2="859.0" stroke-width="2.76" />
<path d="M727.0 878.0 L725.1 878.5 L723.2 878.9 L721.2 879.3 L719.2 879.7 L717.2 880.0 L715.1 880.2 L713.0 880.3 L710.9 880.4 L708.8 880.5 L706.7 880.5 L704.6 880.4 L702.6 880.3 L700.5 880.1 L698.4 879.8 L696.4 879.5 L694.4 879.2 L692.5 878.8 L690.6 878.3 L688.7 877.8 L686.9 877.2 L685.1 876.6 L683.5 875.9 L681.8 875.2 L680.3 874.4 L678.8 873.6 L677.5 872.8 L676.2 871.9 L674.9 870.9 L673.8 870.0 L672.8 869.0 L671.9 868.0 L671.0 867.0 L670.3 865.9 L669.7 864.8 L669.2 863.7 L668.8 862.6 L668.5 861.5 L668.3 860.4 L668.2 859.2 L668.2 858.1 L668.4 857.0 L668.6 855.9 L669.0 854.8 L669.5 853.7 L670.0 852.6 L670.7 851.5 L671.5 850.5 L672.4 849.4 L673.4 848.4 L674.4 847.5 L675.6 846.5 L676.9 845.6 L678.2 844.8 L679.7 843.9 L681.2 843.1 L682.8 842.4 L684.4 841.7 L686.1 841.1 L687.9 840.5 L689.8 839.9 L691.6 839.4 L693.6 839.0 L695.6 838.6 L697.6 838.3 L699.6 838.0 L701.7 837.8 L703.7 837.6 L705.8 837.5 L707.9 837.5 L710.0 837.5 L712.1 837.6 L714.2 837.7 L716.3 837.9 L718.3 838.2 L720.3 838.5 L722.3 838.9 L724.3 839.3 L726.2 839.8 L728.0 840.3 L729.8 840.9 L731.6 841.5 L733.2 842.2 L734.8 843.0 L736.4 843.7 L737.8 844.5 L739.2 845.4 L740.5 846.3 L741.7 847.2 L742.8 848.2 L743.8 849.2 L744.7 850.2 L745.5 851.2 L746.2 852.3 L746.8 853.4 L747.3 854.5 L747.7 855.6 L748.0 856.7 L748.1 857.8 L748.2 859.0 L748.1 860.1 L748.0 861.2 L747.7 862.3 L747.3 863.4 L746.8 864.5 L746.3 865.6 L745.6 866.7 L744.8 867.7 L743.8 868.8 L742.8 869.7 L741.8 870.7 L740.6 871.6 L734.9 868.4 L735.9 867.7 L736.8 867.0 L737.6 866.3 L738.4 865.5 L739.0 864.7 L739.6 863.9 L740.1 863.1 L740.5 862.3 L740.8 861.5 L741.0 860.6 L741.2 859.8 L741.2 859.0 L741.2 858.1 L741.0 857.3 L740.8 856.5 L740.5 855.6 L740.1 854.8 L739.6 854.0 L739.0 853.2 L738.3 852.4 L737.6 851.7 L736.7 851.0 L735.8 850.2 L734.8 849.5 L733.8 848.9 L732.6 848.2 L731.4 847.6 L730.2 847.1 L728.9 846.5 L727.5 846.0 L726.0 845.5 L724.6 845.1 L723.0 844.7 L721.5 844.3 L719.9 844.0 L718.2 843.8 L716.6 843.5 L714.9 843.3 L713.2 843.2 L711.4 843.1 L709.7 843.0 L708.0 843.0 L706.3 843.0 L704.5 843.1 L702.8 843.2 L701.1 843.4 L699.4 843.6 L697.8 843.8 L696.1 844.1 L694.5 844.4 L693.0 844.8 L691.5 845.2 L690.0 845.7 L688.6 846.1 L687.2 846.7 L685.9 847.2 L684.7 847.8 L683.5 848.4 L682.4 849.0 L681.3 849.7 L680.4 850.4 L679.5 851.1 L678.6 851.9 L677.9 852.6 L677.3 853.4 L676.7 854.2 L676.2 855.0 L675.8 855.8 L675.6 856.7 L675.3 857.5 L675.2 858.3 L675.2 859.2 L675.3 860.0 L675.4 860.9 L675.7 861.7 L676.0 862.5 L676.4 863.3 L676.9 864.1 L677.5 864.9 L678.2 865.7 L679.0 866.4 L679.8 867.2 L680.8 867.9 L681.8 868.6 L682.8 869.2 L684.0 869.9 L685.2 870.5 L686.5 871.0 L687.8 871.6 L689.2 872.1 L690.6 872.5 L692.1 873.0 L693.6 873.4 L695.2 873.7 L696.8 874.0 L698.5 874.3 L700.1 874.5 L701.8 874.7 L703.5 874.8 L705.3 874.9 L707.0 875.0 L708.7 875.0 L710.5 875.0 L712.2 874.9 L713.9 874.8 L715.6 874.6 L717.3 874.4 L718.9 874.1 L720.6 873.8 L722.1 873.5 L723.7 873.1 Z" stroke-width="2.76" fill="#fff" />
<path d="M678.3 859.2 L679.1 858.5 L679.9 857.7 L680.9 857.0 L681.9 856.4 L683.0 855.7 L684.1 855.1 L685.3 854.5 L686.6 853.9 L688.0 853.4 L689.4 852.9 L690.8 852.4 L692.3 852.0 L693.9 851.6 L695.5 851.2 L697.1 850.9 L698.8 850.7 L700.4 850.4 L702.1 850.3 L703.9 850.1 L705.6 850.1 L707.3 850.0 L709.1 850.0 L710.8 850.1 L712.5 850.1 L714.3 850.3 L716.0 850.4 L717.6 850.7 L719.3 850.9 L720.9 851.2 L722.5 851.6 L724.1 852.0 L725.6 852.4 L727.0 852.9 L728.4 853.4 L729.8 853.9 L731.1 854.5 L732.3 855.1 L733.4 855.7 L734.5 856.4 L735.5 857.0 L736.5 857.7 L737.3 858.5 L738.1 859.2" stroke-width="2.21" fill="none" />
<path d="M727.0 878.0 L723.7 873.1 L723.7 880.1 L727.0 885.0 Z" stroke-width="2.48" fill="#fff" />
<path d="M740.6 871.6 L734.9 868.4 L734.9 875.4 L740.6 878.6 Z" stroke-width="2.48" fill="#fff" />
<line x1="762.5" y1="864.7" x2="783.0" y2="864.7" stroke-width="2.16" />
<path d="M730.0 974.3 L727.5 974.9 L725.0 975.4 L722.5 975.8 L719.9 976.2 L717.3 976.5 L714.6 976.7 L711.9 976.9 L709.3 977.0 L706.6 977.0 L703.9 976.9 L701.2 976.8 L698.6 976.6 L695.9 976.3 L693.3 975.9 L690.8 975.5 L688.3 975.0 L685.8 974.4 L683.4 973.8 L681.1 973.1 L678.8 972.3 L676.6 971.5 L674.5 970.6 L672.5 969.6 L670.6 968.6 L668.8 967.6 L667.2 966.4 L665.6 965.3 L664.1 964.1 L662.8 962.9 L661.6 961.6 L660.5 960.3 L659.5 959.0 L658.7 957.6 L658.0 956.2 L657.4 954.9 L657.0 953.5 L656.7 952.0 L656.6 950.6 L656.6 949.2 L656.8 947.8 L657.1 946.4 L657.5 945.0 L658.1 943.6 L658.8 942.2 L659.6 940.8 L660.6 939.5 L661.7 938.2 L662.9 937.0 L664.3 935.7 L665.8 934.5 L667.4 933.4 L669.1 932.3 L670.9 931.3 L672.8 930.3 L674.8 929.3 L676.9 928.4 L679.1 927.6 L681.4 926.8 L683.7 926.1 L686.1 925.5 L688.6 924.9 L691.1 924.5 L693.7 924.0 L696.3 923.7 L698.9 923.4 L701.6 923.2 L704.2 923.1 L706.9 923.0 L709.6 923.0 L712.3 923.1 L715.0 923.3 L717.6 923.5 L720.2 923.8 L722.8 924.2 L725.3 924.7 L727.8 925.2 L730.3 925.8 L732.7 926.5 L735.0 927.2 L737.2 928.0 L739.3 928.9 L741.4 929.8 L743.4 930.7 L745.2 931.8 L747.0 932.8 L748.6 934.0 L750.2 935.1 L751.6 936.3 L752.9 937.6 L754.1 938.9 L755.1 940.2 L756.0 941.5 L756.8 942.9 L757.4 944.3 L757.9 945.6 L758.3 947.1 L758.5 948.5 L758.6 949.9 L758.5 951.3 L758.3 952.7 L758.0 954.1 L757.5 955.5 L756.9 956.9 L756.1 958.3 L755.2 959.6 L754.2 961.0 L753.1 962.2 L751.8 963.5 L750.4 964.7 L748.9 965.9 L737.1 960.9 L738.2 960.1 L739.2 959.2 L740.1 958.4 L741.0 957.5 L741.7 956.6 L742.3 955.7 L742.9 954.7 L743.3 953.8 L743.7 952.8 L743.9 951.9 L744.1 950.9 L744.1 949.9 L744.0 949.0 L743.9 948.0 L743.6 947.0 L743.3 946.1 L742.8 945.1 L742.2 944.2 L741.6 943.3 L740.8 942.4 L740.0 941.5 L739.1 940.6 L738.1 939.8 L737.0 939.0 L735.8 938.2 L734.5 937.5 L733.2 936.8 L731.8 936.1 L730.3 935.5 L728.8 934.9 L727.2 934.4 L725.5 933.9 L723.8 933.4 L722.1 933.0 L720.3 932.7 L718.5 932.3 L716.6 932.1 L714.8 931.9 L712.9 931.7 L711.0 931.6 L709.0 931.5 L707.1 931.5 L705.2 931.5 L703.3 931.6 L701.4 931.8 L699.5 932.0 L697.6 932.2 L695.8 932.5 L694.0 932.8 L692.2 933.2 L690.5 933.7 L688.8 934.1 L687.2 934.7 L685.6 935.2 L684.1 935.8 L682.7 936.5 L681.3 937.2 L680.0 937.9 L678.8 938.6 L677.7 939.4 L676.6 940.2 L675.6 941.1 L674.8 941.9 L674.0 942.8 L673.3 943.7 L672.7 944.7 L672.2 945.6 L671.7 946.5 L671.4 947.5 L671.2 948.5 L671.1 949.4 L671.1 950.4 L671.2 951.4 L671.4 952.4 L671.7 953.3 L672.1 954.3 L672.6 955.2 L673.2 956.2 L673.9 957.1 L674.6 958.0 L675.5 958.8 L676.5 959.7 L677.5 960.5 L678.7 961.3 L679.9 962.0 L681.2 962.7 L682.5 963.4 L683.9 964.1 L685.4 964.7 L687.0 965.3 L688.6 965.8 L690.3 966.3 L692.0 966.7 L693.8 967.1 L695.6 967.5 L697.4 967.8 L699.2 968.0 L701.1 968.2 L703.0 968.4 L704.9 968.5 L706.9 968.5 L708.8 968.5 L710.7 968.4 L712.6 968.3 L714.5 968.2 L716.4 968.0 L718.2 967.7 L720.1 967.4 L721.9 967.0 L723.6 966.6 Z" stroke-width="2.76" fill="#fff" />
<path d="M730.0 971.3 L727.5 971.9 L725.0 972.4 L722.5 972.8 L719.9 973.2 L717.3 973.5 L714.6 973.7 L711.9 973.9 L709.3 974.0 L706.6 974.0 L703.9 973.9 L701.2 973.8 L698.6 973.6 L695.9 973.3 L693.3 972.9 L690.8 972.5 L688.3 972.0 L685.8 971.4 L683.4 970.8 L681.1 970.1 L678.8 969.3 L676.6 968.5 L674.5 967.6 L672.5 966.6 L670.6 965.6 L668.8 964.6 L667.2 963.4 L665.6 962.3 L664.1 961.1 L662.8 959.9 L661.6 958.6 L660.5 957.3 L659.5 956.0 L658.7 954.6 L658.0 953.2 L657.4 951.9 L657.0 950.5 L656.7 949.0 L656.6 947.6 L656.6 946.2 L656.8 944.8 L657.1 943.4 L657.5 942.0 L658.1 940.6 L658.8 939.2 L659.6 937.8 L660.6 936.5 L661.7 935.2 L662.9 934.0 L664.3 932.7 L665.8 931.5 L667.4 930.4 L669.1 929.3 L670.9 928.3 L672.8 927.3 L674.8 926.3 L676.9 925.4 L679.1 924.6 L681.4 923.8 L683.7 923.1 L686.1 922.5 L688.6 921.9 L691.1 921.5 L693.7 921.0 L696.3 920.7 L698.9 920.4 L701.6 920.2 L704.2 920.1 L706.9 920.0 L709.6 920.0 L712.3 920.1 L715.0 920.3 L717.6 920.5 L720.2 920.8 L722.8 921.2 L725.3 921.7 L727.8 922.2 L730.3 922.8 L732.7 923.5 L735.0 924.2 L737.2 925.0 L739.3 925.9 L741.4 926.8 L743.4 927.7 L745.2 928.8 L747.0 929.8 L748.6 931.0 L750.2 932.1 L751.6 933.3 L752.9 934.6 L754.1 935.9 L755.1 937.2 L756.0 938.5 L756.8 939.9 L757.4 941.3 L757.9 942.6 L758.3 944.1 L758.5 945.5 L758.6 946.9 L758.5 948.3 L758.3 949.7 L758.0 951.1 L757.5 952.5 L756.9 953.9 L756.1 955.3 L755.2 956.6 L754.2 958.0 L753.1 959.2 L751.8 960.5 L750.4 961.7 L748.9 962.9 L737.1 957.9 L738.2 957.1 L739.2 956.2 L740.1 955.4 L741.0 954.5 L741.7 953.6 L742.3 952.7 L742.9 951.7 L743.3 950.8 L743.7 949.8 L743.9 948.9 L744.1 947.9 L744.1 946.9 L744.0 946.0 L743.9 945.0 L743.6 944.0 L743.3 943.1 L742.8 942.1 L742.2 941.2 L741.6 940.3 L740.8 939.4 L740.0 938.5 L739.1 937.6 L738.1 936.8 L737.0 936.0 L735.8 935.2 L734.5 934.5 L733.2 933.8 L731.8 933.1 L730.3 932.5 L728.8 931.9 L727.2 931.4 L725.5 930.9 L723.8 930.4 L722.1 930.0 L720.3 929.7 L718.5 929.3 L716.6 929.1 L714.8 928.9 L712.9 928.7 L711.0 928.6 L709.0 928.5 L707.1 928.5 L705.2 928.5 L703.3 928.6 L701.4 928.8 L699.5 929.0 L697.6 929.2 L695.8 929.5 L694.0 929.8 L692.2 930.2 L690.5 930.7 L688.8 931.1 L687.2 931.7 L685.6 932.2 L684.1 932.8 L682.7 933.5 L681.3 934.2 L680.0 934.9 L678.8 935.6 L677.7 936.4 L676.6 937.2 L675.6 938.1 L674.8 938.9 L674.0 939.8 L673.3 940.7 L672.7 941.7 L672.2 942.6 L671.7 943.5 L671.4 944.5 L671.2 945.5 L671.1 946.4 L671.1 947.4 L671.2 948.4 L671.4 949.4 L671.7 950.3 L672.1 951.3 L672.6 952.2 L673.2 953.2 L673.9 954.1 L674.6 955.0 L675.5 955.8 L676.5 956.7 L677.5 957.5 L678.7 958.3 L679.9 959.0 L681.2 959.7 L682.5 960.4 L683.9 961.1 L685.4 961.7 L687.0 962.3 L688.6 962.8 L690.3 963.3 L692.0 963.7 L693.8 964.1 L695.6 964.5 L697.4 964.8 L699.2 965.0 L701.1 965.2 L703.0 965.4 L704.9 965.5 L706.9 965.5 L708.8 965.5 L710.7 965.4 L712.6 965.3 L714.5 965.2 L716.4 965.0 L718.2 964.7 L720.1 964.4 L721.9 964.0 L723.6 963.6 Z" stroke-width="2.76" fill="#fff" />
<path d="M730.0 971.3 L723.6 963.6 L723.6 966.6 L730.0 974.3 Z" stroke-width="2.21" fill="#000" />
<path d="M748.9 962.9 L737.1 957.9 L737.1 960.9 L748.9 965.9 Z" stroke-width="2.21" fill="#000" />
<path d="M744.1 947.0 L744.0 948.0 L743.9 948.9 L743.7 949.9 L743.3 950.8 L742.9 951.8 L742.3 952.7 L741.7 953.6 L740.9 954.5 L740.1 955.4 L739.2 956.2 L738.2 957.1 L737.1 957.9 L736.0 958.6 L734.7 959.4 L733.4 960.1 L732.0 960.7 L730.6 961.4 L729.1 962.0 L727.5 962.5 L725.9 963.0 L724.2 963.5 L722.4 963.9 L720.7 964.3 L718.9 964.6 L717.0 964.9 L715.2 965.1 L713.3 965.3 L711.4 965.4 L709.5 965.5 L707.6 965.5 L705.7 965.5 L703.8 965.4 L701.9 965.3 L700.0 965.1 L698.2 964.9 L696.3 964.6 L694.5 964.3 L692.8 963.9 L691.0 963.5 L689.4 963.0 L687.7 962.5 L686.1 962.0 L684.6 961.4 L683.2 960.7 L681.8 960.1 L680.5 959.4 L679.2 958.6 L678.1 957.9 L677.0 957.1 L676.0 956.2 L675.1 955.4 L674.3 954.5 L673.5 953.6 L672.9 952.7 L672.3 951.8 L671.9 950.8 L671.5 949.9 L671.3 948.9 L671.2 948.0 L671.1 947.0 L671.1 921.0 L671.2 920.0 L671.3 919.1 L671.5 918.1 L671.9 917.2 L672.3 916.2 L672.9 915.3 L673.5 914.4 L674.3 913.5 L675.1 912.6 L676.0 911.8 L677.0 910.9 L678.1 910.1 L679.2 909.4 L680.5 908.6 L681.8 907.9 L683.2 907.3 L684.6 906.6 L686.1 906.0 L687.7 905.5 L689.4 905.0 L691.0 904.5 L692.8 904.1 L694.5 903.7 L696.3 903.4 L698.2 903.1 L700.0 902.9 L701.9 902.7 L703.8 902.6 L705.7 902.5 L707.6 902.5 L709.5 902.5 L711.4 902.6 L713.3 902.7 L715.2 902.9 L717.0 903.1 L718.9 903.4 L720.7 903.7 L722.4 904.1 L724.2 904.5 L725.9 905.0 L727.5 905.5 L729.1 906.0 L730.6 906.6 L732.0 907.3 L733.4 907.9 L734.7 908.6 L736.0 909.4 L737.1 910.1 L738.2 910.9 L739.2 911.8 L740.1 912.6 L740.9 913.5 L741.7 914.4 L742.3 915.3 L742.9 916.2 L743.3 917.2 L743.7 918.1 L743.9 919.1 L744.0 920.0 L744.1 921.0 Z" stroke-width="0.1" fill="#fff" stroke="#fff"/>
<path d="M723.6 963.6 L721.8 964.0 L720.0 964.4 L718.2 964.7 L716.3 965.0 L714.4 965.2 L712.5 965.3 L710.5 965.4 L708.6 965.5 L706.7 965.5 L704.7 965.4 L702.8 965.3 L700.9 965.2 L699.0 965.0 L697.1 964.7 L695.2 964.4 L693.4 964.0 L691.7 963.6 L689.9 963.2 L688.3 962.7 L686.6 962.1 L685.1 961.6 L683.6 960.9 L682.1 960.3 L680.8 959.6 L679.5 958.8 L678.3 958.0 L677.2 957.2 L676.2 956.4 L675.2 955.5 L674.4 954.6 L673.6 953.7 L672.9 952.8 L672.4 951.9 L671.9 950.9 L671.6 949.9 L671.3 949.0 L671.2 948.0 L671.1 947.0" stroke-width="2.76" fill="none" />
<path d="M744.1 947.0 L744.0 948.0 L743.9 948.9 L743.7 949.9 L743.3 950.8 L742.9 951.8 L742.3 952.7 L741.7 953.6 L740.9 954.5 L740.1 955.4 L739.2 956.2 L738.2 957.1 L737.1 957.9" stroke-width="2.76" fill="none" />
<line x1="671.1" y1="947.0" x2="671.1" y2="921.0" stroke-width="2.76" />
<line x1="744.1" y1="947.0" x2="744.1" y2="921.0" stroke-width="2.76" />
<path d="M723.6 937.6 L721.9 938.0 L720.1 938.4 L718.2 938.7 L716.4 939.0 L714.5 939.2 L712.6 939.3 L710.7 939.4 L708.8 939.5 L706.9 939.5 L704.9 939.5 L703.0 939.4 L701.1 939.2 L699.2 939.0 L697.4 938.8 L695.6 938.5 L693.8 938.1 L692.0 937.7 L690.3 937.3 L688.6 936.8 L687.0 936.3 L685.4 935.7 L683.9 935.1 L682.5 934.4 L681.2 933.7 L679.9 933.0 L678.7 932.3 L677.5 931.5 L676.5 930.7 L675.5 929.8 L674.6 929.0 L673.9 928.1 L673.2 927.2 L672.6 926.2 L672.1 925.3 L671.7 924.3 L671.4 923.4 L671.2 922.4 L671.1 921.4 L671.1 920.4 L671.2 919.5 L671.4 918.5 L671.7 917.5 L672.2 916.6 L672.7 915.7 L673.3 914.7 L674.0 913.8 L674.8 912.9 L675.6 912.1 L676.6 911.2 L677.7 910.4 L678.8 909.6 L680.0 908.9 L681.3 908.2 L682.7 907.5 L684.1 906.8 L685.6 906.2 L687.2 905.7 L688.8 905.1 L690.5 904.7 L692.2 904.2 L694.0 903.8 L695.8 903.5 L697.6 903.2 L699.5 903.0 L701.4 902.8 L703.3 902.6 L705.2 902.5 L707.1 902.5 L709.0 902.5 L711.0 902.6 L712.9 902.7 L714.8 902.9 L716.6 903.1 L718.5 903.3 L720.3 903.7 L722.1 904.0 L723.8 904.4 L725.5 904.9 L727.2 905.4 L728.8 905.9 L730.3 906.5 L731.8 907.1 L733.2 907.8 L734.5 908.5 L735.8 909.2 L737.0 910.0 L738.1 910.8 L739.1 911.6 L740.0 912.5 L740.8 913.4 L741.6 914.3 L742.2 915.2 L742.8 916.1 L743.3 917.1 L743.6 918.0 L743.9 919.0 L744.0 920.0 L744.1 920.9 L744.1 921.9 L743.9 922.9 L743.7 923.8 L743.3 924.8 L742.9 925.7 L742.3 926.7 L741.7 927.6 L741.0 928.5 L740.1 929.4 L739.2 930.2 L738.2 931.1 L737.1 931.9 L731.1 928.6 L731.9 928.1 L732.7 927.5 L733.5 926.9 L734.1 926.3 L734.7 925.6 L735.2 925.0 L735.6 924.3 L736.0 923.7 L736.3 923.0 L736.5 922.3 L736.6 921.6 L736.6 921.0 L736.6 920.3 L736.4 919.6 L736.2 918.9 L735.9 918.2 L735.6 917.6 L735.1 916.9 L734.6 916.3 L734.0 915.6 L733.4 915.0 L732.6 914.4 L731.8 913.8 L730.9 913.3 L730.0 912.7 L729.0 912.2 L727.9 911.7 L726.8 911.3 L725.6 910.8 L724.4 910.4 L723.2 910.0 L721.8 909.7 L720.5 909.4 L719.1 909.1 L717.7 908.8 L716.2 908.6 L714.8 908.4 L713.3 908.3 L711.8 908.1 L710.3 908.1 L708.7 908.0 L707.2 908.0 L705.7 908.0 L704.2 908.1 L702.7 908.2 L701.2 908.3 L699.7 908.5 L698.2 908.7 L696.8 908.9 L695.4 909.2 L694.0 909.5 L692.7 909.9 L691.4 910.2 L690.2 910.6 L689.0 911.0 L687.8 911.5 L686.7 912.0 L685.7 912.5 L684.7 913.0 L683.8 913.6 L683.0 914.1 L682.2 914.7 L681.5 915.3 L680.9 916.0 L680.3 916.6 L679.8 917.2 L679.4 917.9 L679.1 918.6 L678.9 919.2 L678.7 919.9 L678.6 920.6 L678.6 921.3 L678.7 922.0 L678.8 922.7 L679.1 923.3 L679.4 924.0 L679.8 924.7 L680.2 925.3 L680.8 926.0 L681.4 926.6 L682.1 927.2 L682.9 927.8 L683.7 928.4 L684.6 928.9 L685.6 929.5 L686.6 930.0 L687.7 930.4 L688.8 930.9 L690.0 931.3 L691.2 931.7 L692.5 932.1 L693.8 932.4 L695.2 932.8 L696.6 933.0 L698.0 933.3 L699.5 933.5 L701.0 933.7 L702.5 933.8 L704.0 933.9 L705.5 934.0 L707.0 934.0 L708.5 934.0 L710.1 934.0 L711.6 933.9 L713.1 933.8 L714.6 933.6 L716.1 933.4 L717.5 933.2 L718.9 933.0 L720.3 932.7 Z" stroke-width="2.76" fill="#fff" />
<path d="M723.6 937.6 L720.3 932.7 L720.3 958.7 L723.6 963.6 Z" stroke-width="2.48" fill="#fff" />
<path d="M737.1 931.9 L731.1 928.6 L731.1 954.6 L737.1 957.9 Z" stroke-width="2.48" fill="#fff" />
<line x1="759.0" y1="944.3" x2="779.5" y2="944.3" stroke-width="2.16" />
<line x1="706.5" y1="979.5" x2="706.5" y2="1004.7" stroke-width="1.92" />
<line x1="698.3" y1="988.5" x2="706.5" y2="1004.7" stroke-width="1.92" />
<path d="M591.9 1014.2 L618.5 1001.9 L676.5 1092.1 L688.8 1087.4" stroke-width="2.16" fill="none" />
<ellipse cx="704.0" cy="1078.2" rx="8.5" ry="15.5" stroke-width="2.4" fill="#000" transform="rotate(-27 704.0 1078.2)" />
<path d="M706.5 1094.3 L711.0 1092.0 L696.9 1064.4 L692.5 1066.7 Z" stroke-width="2.4" fill="#000" />
<ellipse cx="699.5" cy="1080.5" rx="8.5" ry="15.5" stroke-width="3.96" fill="#fff" transform="rotate(-27 699.5 1080.5)" />
<ellipse cx="699.5" cy="1080.5" rx="4.7" ry="9.3" stroke-width="2.88" fill="#fff" transform="rotate(-27 699.5 1080.5)" />
<line x1="707.8" y1="1095.0" x2="707.8" y2="1107.5" stroke-width="1.92" />
<ellipse cx="729.8" cy="1063.3" rx="8.0" ry="14.5" stroke-width="2.4" fill="#000" transform="rotate(-27 729.8 1063.3)" />
<path d="M731.1 1078.9 L736.4 1076.2 L723.3 1050.4 L717.9 1053.1 Z" stroke-width="2.4" fill="#000" />
<ellipse cx="724.5" cy="1066.0" rx="8.0" ry="14.5" stroke-width="3.96" fill="#fff" transform="rotate(-27 724.5 1066.0)" />
<ellipse cx="724.5" cy="1066.0" rx="4.4" ry="8.7" stroke-width="2.88" fill="#fff" transform="rotate(-27 724.5 1066.0)" />
<line x1="725.9" y1="1035.0" x2="725.9" y2="1049.0" stroke-width="1.92" />
<line x1="486.2" y1="696.5" x2="486.2" y2="721.0" stroke-width="1.92" />
<line x1="486.2" y1="696.5" x2="494.3" y2="713.4" stroke-width="1.92" />
<line x1="344.5" y1="746.0" x2="357.5" y2="746.0" stroke-width="2.16" />
<path d="M455.8 740.5 L455.8 749.5 A29.7 16.2 0 0 0 515.2 749.5 L515.2 740.5" stroke-width="2.64" fill="#fff" />
<ellipse cx="485.5" cy="740.5" rx="29.7" ry="16.2" stroke-width="2.64" fill="#000" />
<ellipse cx="486.0" cy="743.0" rx="24.5" ry="10.5" stroke-width="1.8" fill="#fff" />
<line x1="459.5" y1="752.5" x2="465.0" y2="757.5" stroke-width="1.68" />
<line x1="440.3" y1="748.5" x2="455.6" y2="748.5" stroke-width="2.16" />
<ellipse cx="485.8" cy="786.3" rx="28.0" ry="15.0" stroke-width="6.2" fill="none" />
<line x1="441.2" y1="789.0" x2="454.5" y2="789.0" stroke-width="2.16" />
<path d="M475.5 918.0 L475.5 962.0 L494.0 962.0 L494.0 918.0 Z" stroke-width="2.64" fill="#fff" />
<path d="M476 945 C482 941 490 944 493 949 M478 952 C484 947 490 949 493 953" stroke-width="2.88" fill="none" />
<path d="M456.0 822 L454.5 850 L452.5 903 L452.5 908.6 A33 13 0 0 0 518.5 908.6 L518.5 903 L516.5 850 L515.0 822 Z" stroke-width="2.64" fill="#fff" />
<path d="M455.922 823.5 A29.578 13 0 0 0 515.078 823.5 L515.078 835.8 A29.578 13 0 0 1 455.922 835.8 Z" stroke-width="1.44" fill="#000" />
<path d="M454.9444 842.3 A30.5556 13 0 0 0 516.0556 842.3 L516.0556 851.0999999999999 A30.5556 13 0 0 1 454.9444 851.0999999999999 Z" stroke-width="1.44" fill="#000" />
<path d="M454.2528 855.6 A31.2472 13 0 0 0 516.7472 855.6 L516.7472 867.9 A31.2472 13 0 0 1 454.2528 867.9 Z" stroke-width="1.44" fill="#000" />
<path d="M453.3064 873.8 A32.193599999999996 13 0 0 0 517.6936 873.8 L517.6936 883.3 A32.193599999999996 13 0 0 1 453.3064 883.3 Z" stroke-width="1.44" fill="#000" />
<path d="M452.5056 889.2 A32.9944 13 0 0 0 518.4944 889.2 L518.4944 898.7 A32.9944 13 0 0 1 452.5056 898.7 Z" stroke-width="1.44" fill="#000" />
<path d="M452.5 908.6 A33 13 0 0 0 518.5 908.6" stroke-width="3.12" fill="none" />
<ellipse cx="485.5" cy="822.0" rx="29.5" ry="14.3" stroke-width="3.12" fill="#fff" />
<ellipse cx="485.5" cy="823.0" rx="20.5" ry="9.6" stroke-width="2.88" fill="#fff" />
<ellipse cx="485.5" cy="823.5" rx="12.5" ry="5.6" stroke-width="3.6" fill="#fff" />
<ellipse cx="485.5" cy="823.5" rx="6.5" ry="2.6" stroke-width="1.92" fill="#fff" />
<path d="M466 1052 L504 1050 C512 1053 515 1062 514 1070 C513.5 1078 512 1083 510 1086 L484 1100 L462 1090 Z" stroke-width="2.64" fill="#fff" />
<path d="M453.5 1014 L453.5 1046 A30.5 9.5 0 0 0 514.5 1046 L514.5 1014 Z" stroke-width="2.64" fill="#fff" />
<ellipse cx="484.0" cy="1014.0" rx="30.5" ry="9.5" stroke-width="2.64" fill="#fff" />
<path d="M453.5 1026 A30.5 9.5 0 0 0 514.5 1026" stroke-width="3.74" fill="none" />
<path d="M453.5 1032 A30.5 9.5 0 0 0 514.5 1032" stroke-width="3.74" fill="none" />
<path d="M453.5 1038 A30.5 9.5 0 0 0 514.5 1038" stroke-width="3.74" fill="none" />
<path d="M453.5 1044 A30.5 9.5 0 0 0 514.5 1044" stroke-width="3.74" fill="none" />
<path d="M450.0 998 L450.0 1010 A34.5 11.5 0 0 0 519.0 1010 L519.0 998 Z" stroke-width="2.88" fill="#fff" />
<ellipse cx="484.5" cy="998.0" rx="34.5" ry="11.5" stroke-width="2.88" fill="#fff" />
<ellipse cx="484.5" cy="997.0" rx="30.0" ry="9.0" stroke-width="2.16" fill="#fff" />
<path d="M461.0 972 L461.0 992 A24.5 8 0 0 0 510.0 992 L510.0 972 Z" stroke-width="2.64" fill="#fff" />
<ellipse cx="485.5" cy="972.0" rx="24.5" ry="8.0" stroke-width="2.64" fill="#fff" />
<path d="M465 957.5 L465 974 A20 6.5 0 0 0 505 974 L505 957.5 Z" stroke-width="2.64" fill="#fff" />
<ellipse cx="485.0" cy="957.5" rx="20.0" ry="6.5" stroke-width="2.64" fill="#fff" />
<path d="M475.5 949 L475.5 958 A9.5 3 0 0 0 494.5 958 L494.5 949 Z" stroke-width="2.4" fill="#fff" />
<ellipse cx="485.0" cy="949.0" rx="9.5" ry="3.0" stroke-width="2.4" fill="#fff" />
<ellipse cx="473.0" cy="1080.0" rx="18.0" ry="19.8" stroke-width="2.88" fill="#fff" transform="rotate(-10 473.0 1080.0)" />
<ellipse cx="473.0" cy="1081.0" rx="12.0" ry="13.2" stroke-width="2.88" fill="#fff" transform="rotate(-10 473.0 1081.0)" />
<path d="M462 1072 C460 1080 463 1090 470 1094" stroke-width="1.92" fill="none" />
<line x1="403.5" y1="1113.0" x2="471.0" y2="1079.0" stroke-width="2.16" />
<path d="M471 1079 L476 1079.5" stroke-width="2.16" fill="none" />
<line x1="512.0" y1="1057.0" x2="533.0" y2="1045.0" stroke-width="2.16" />
<ellipse cx="558.0" cy="1032.0" rx="10.5" ry="14.0" stroke-width="2.64" fill="#fff" transform="rotate(-26.5 558.0 1032.0)" />
<path d="M564.2 1044.5 L548.2 1052.5 L535.8 1027.5 L551.8 1019.5 Z" stroke-width="0.1" fill="#fff" stroke="#fff"/>
<line x1="564.2" y1="1044.5" x2="548.2" y2="1052.5" stroke-width="2.64" />
<line x1="551.8" y1="1019.5" x2="535.8" y2="1027.5" stroke-width="2.64" />
<ellipse cx="542.0" cy="1040.0" rx="10.5" ry="14.0" stroke-width="2.64" fill="#fff" transform="rotate(-26.5 542.0 1040.0)" />
<ellipse cx="542.0" cy="1040.0" rx="10.5" ry="14.0" stroke-width="3.12" fill="#fff" transform="rotate(-26.5 542.0 1040.0)" />
<ellipse cx="542.3" cy="1040.5" rx="5.2" ry="6.6" stroke-width="2.88" fill="#fff" transform="rotate(-26.5 542.3 1040.5)" />
<line x1="556.6" y1="1048.0" x2="556.6" y2="1062.0" stroke-width="1.92" />
<ellipse cx="579.0" cy="1021.0" rx="8.5" ry="16.5" stroke-width="5.2" fill="#fff" transform="rotate(-28 579.0 1021.0)" />
<line x1="573.6" y1="993.0" x2="573.6" y2="1006.0" stroke-width="1.92" />
<line x1="592.0" y1="1014.0" x2="605.0" y2="1008.0" stroke-width="2.16" />
<ellipse cx="393.5" cy="1117.7" rx="7.5" ry="14.5" stroke-width="2.4" fill="#000" transform="rotate(-27 393.5 1117.7)" />
<path d="M395.6 1132.9 L400.0 1130.6 L386.9 1104.8 L382.4 1107.1 Z" stroke-width="2.4" fill="#000" />
<ellipse cx="389.0" cy="1120.0" rx="7.5" ry="14.5" stroke-width="3.96" fill="#fff" transform="rotate(-27 389.0 1120.0)" />
<ellipse cx="389.0" cy="1120.0" rx="4.1" ry="8.7" stroke-width="2.88" fill="#fff" transform="rotate(-27 389.0 1120.0)" />
<line x1="385.5" y1="1090.5" x2="385.5" y2="1105.5" stroke-width="1.92" />
<ellipse cx="368.0" cy="1131.5" rx="9.0" ry="13.5" stroke-width="2.4" fill="#fff" transform="rotate(-27 368.0 1131.5)" />
<path d="M361.5 1119.0 L365.0 1117.5 L374.0 1143.5 L370.0 1145.5 Z" stroke-width="0.2" fill="#fff" stroke="#fff"/>
<ellipse cx="364.5" cy="1133.0" rx="9.0" ry="13.5" stroke-width="2.88" fill="#fff" transform="rotate(-27 364.5 1133.0)" />
<ellipse cx="364.8" cy="1133.5" rx="4.2" ry="6.8" stroke-width="2.64" fill="#fff" transform="rotate(-27 364.8 1133.5)" />
<line x1="366.0" y1="1147.0" x2="366.0" y2="1155.5" stroke-width="1.92" />
<path d="M448.5 1143 L448.5 1180 A36.8 16.5 0 0 0 522.1 1180 L522.1 1143" stroke-width="2.88" fill="#fff" />
<ellipse cx="485.3" cy="1143.0" rx="36.8" ry="14.5" stroke-width="2.88" fill="#fff" />
<ellipse cx="485.3" cy="1144.5" rx="32.5" ry="11.5" stroke-width="2.64" fill="#fff" />
<path d="M458.3 1158 A26 7 0 0 1 510.3 1158" stroke-width="2.4" fill="none" />
<path d="M461.3 1162 A23 6 0 0 1 507.3 1162" stroke-width="2.4" fill="none" />
<path d="M448.5 1175 A36.8 16.5 0 0 0 522.1 1175" stroke-width="1.92" fill="none" />
<line x1="522.5" y1="1167.6" x2="541.5" y2="1167.6" stroke-width="2.16" />
<line x1="249.3" y1="805.2" x2="262.0" y2="805.2" stroke-width="2.16" />
<path d="M267.3 808.0 L267.3 826.0 L269.0 828.5 L277.5 828.5 L279.3 826.0 L279.3 808.0 Z" stroke-width="1.92" fill="#000" />
<line x1="270.5" y1="817.5" x2="276.5" y2="817.5" stroke-width="1.56" stroke="#fff"/>
<line x1="270.5" y1="821.5" x2="276.5" y2="821.5" stroke-width="1.56" stroke="#fff"/>
<path d="M262.5 795 L262.5 806 C263 811 283.5 811 284.5 806 L284.5 795 Z" stroke-width="3.12" fill="#fff" />
<ellipse cx="273.5" cy="795.0" rx="11.0" ry="6.0" stroke-width="3.12" fill="#fff" />
<path d="M263 804 C266 808.5 281 808.5 284 804" stroke-width="3.12" fill="none" />
<line x1="268.5" y1="800.0" x2="268.5" y2="806.0" stroke-width="1.68" />
<line x1="279.0" y1="800.0" x2="279.0" y2="806.0" stroke-width="1.68" />
<ellipse cx="272.5" cy="839.3" rx="11.2" ry="7.2" stroke-width="3.6" fill="#fff" />
<ellipse cx="272.5" cy="839.0" rx="6.0" ry="3.4" stroke-width="2.64" fill="#000" />
<path d="M262.0 841.3 A11 7 0 0 0 283.0 841.3" stroke-width="2.88" fill="none" />
<line x1="250.0" y1="841.8" x2="260.0" y2="841.8" stroke-width="2.16" />
<g transform="rotate(30 284 869)">
<path d="M284.0 864.5 L328.0 864.5 L331.0 866.5 L331.0 872.5 L328.0 874.0 L284.0 874.0 Z" stroke-width="2.16" fill="#fff" />
<path d="M297.0 863.8 L313.0 863.8 L313.0 874.8 L297.0 874.8 Z" stroke-width="1.44" fill="#000" />
<path d="M324.0 864.5 L328.0 864.5 L331.0 866.5 L331.0 872.5 L328.0 874.0 L324.0 874.0 Z" stroke-width="1.44" fill="#000" />
<line x1="291.0" y1="864.5" x2="291.0" y2="874.0" stroke-width="1.68" />
</g>
<path d="M260 857.5 L260 867 A12.4 7 0 0 0 284.8 867 L284.8 857.5" stroke-width="2.88" fill="#fff" />
<ellipse cx="272.4" cy="857.5" rx="12.4" ry="7.0" stroke-width="3.12" fill="#fff" />
<ellipse cx="272.6" cy="857.8" rx="6.2" ry="3.8" stroke-width="1.8" fill="#000" />
<ellipse cx="272.5" cy="885.8" rx="11.2" ry="7.2" stroke-width="3.6" fill="#fff" />
<ellipse cx="272.5" cy="885.5" rx="6.0" ry="3.4" stroke-width="2.64" fill="#000" />
<path d="M262.0 887.8 A11 7 0 0 0 283.0 887.8" stroke-width="2.88" fill="none" />
<line x1="249.3" y1="887.5" x2="261.0" y2="887.5" stroke-width="2.16" />
<line x1="272.2" y1="897.0" x2="272.2" y2="921.0" stroke-width="2.16" />
<path d="M242.1 946.6 L242.1 1108 C242.7 1118 253.7 1122 261.7 1123 L286.7 1123 C295.7 1122 304.7 1118 305.3 1108 L305.3 946.6 Z" stroke-width="2.64" fill="#fff" />
<path d="M261.2 1123 A13 4.5 0 0 0 287.7 1123" stroke-width="2.88" fill="#fff" />
<ellipse cx="273.7" cy="946.6" rx="31.6" ry="13.2" stroke-width="2.88" fill="#fff" />
<path d="M242.1 949.5 A31.6 13.2 0 0 0 305.3 949.5" stroke-width="2.4" fill="none" />
<ellipse cx="273.7" cy="945.5" rx="26.0" ry="10.0" stroke-width="2.64" fill="#fff" />
<path d="M261.0 932 L261.0 946 A12.7 5 0 0 0 286.4 946 L286.4 932 Z" stroke-width="2.64" fill="#fff" />
<ellipse cx="273.7" cy="932.0" rx="12.7" ry="5.0" stroke-width="2.64" fill="#fff" />
<ellipse cx="273.2" cy="932.2" rx="3.4" ry="1.9" stroke-width="1.2" fill="#000" />
<line x1="322.5" y1="964.3" x2="343.0" y2="964.3" stroke-width="2.16" />
<path d="M268.5 1151 C269 1146.5 285 1146.5 285.8 1151 L286.3 1164 C286 1172 282 1175 277.5 1175 C273 1175 268.5 1172 268 1164 Z" stroke-width="1.44" fill="#000" />
<line x1="275.0" y1="1154.0" x2="275.0" y2="1168.0" stroke-width="1.44" stroke="#fff"/>
<line x1="279.5" y1="1154.0" x2="279.5" y2="1168.0" stroke-width="1.44" stroke="#fff"/>
<path d="M273 1150.5 C275 1149.3 280 1149.3 282 1150.5" stroke-width="1.2" fill="none" stroke="#fff"/>
<line x1="251.0" y1="1159.5" x2="266.5" y2="1159.5" stroke-width="2.16" />
</svg>
</body></html>
